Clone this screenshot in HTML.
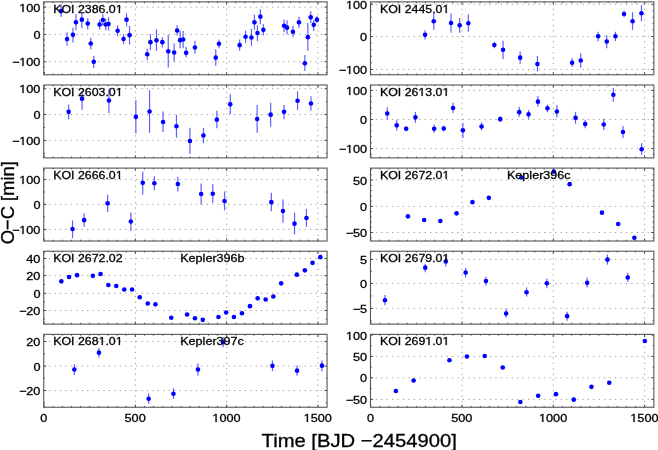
<!DOCTYPE html>
<html><head><meta charset="utf-8"><style>
html,body{margin:0;padding:0;background:#fff;}
svg{display:block;will-change:transform;}
text{font-family:"Liberation Sans",sans-serif;fill:#000;stroke:#000;stroke-width:0.3px;}
.tl{font-size:11.7px;}
.nm{font-size:11.5px;}
.ax{font-size:18.6px;}
.ay{font-size:18.35px;}
.gr{stroke:#999;stroke-width:1;stroke-dasharray:1.2 4.238;}
.tk{stroke:#444;stroke-width:1;}
.fr{fill:none;stroke:#555;stroke-width:1.1;}
.eb{stroke:#6060ff;stroke-width:1.2;}
.pt{fill:#0000ff;}
.one{fill:#000;stroke:#000;}
</style></head><body>
<svg width="658" height="450" viewBox="0 0 658 450">

<g>
<line x1="43.63" y1="61.73" x2="326.27" y2="61.73" class="gr"/>
<line x1="43.63" y1="34.40" x2="326.27" y2="34.40" class="gr"/>
<line x1="43.63" y1="7.07" x2="326.27" y2="7.07" class="gr"/>
<line x1="135.35" y1="75.02" x2="135.35" y2="2.67" class="gr"/>
<line x1="226.65" y1="75.02" x2="226.65" y2="2.67" class="gr"/>
<line x1="317.95" y1="75.02" x2="317.95" y2="2.67" class="gr"/>
<line x1="43.73" y1="72.66" x2="45.03" y2="72.66" class="tk"/>
<line x1="327.07" y1="72.66" x2="325.77" y2="72.66" class="tk"/>
<line x1="43.73" y1="67.20" x2="45.03" y2="67.20" class="tk"/>
<line x1="327.07" y1="67.20" x2="325.77" y2="67.20" class="tk"/>
<line x1="43.73" y1="61.73" x2="46.33" y2="61.73" class="tk"/>
<line x1="327.07" y1="61.73" x2="324.47" y2="61.73" class="tk"/>
<line x1="43.73" y1="56.26" x2="45.03" y2="56.26" class="tk"/>
<line x1="327.07" y1="56.26" x2="325.77" y2="56.26" class="tk"/>
<line x1="43.73" y1="50.80" x2="45.03" y2="50.80" class="tk"/>
<line x1="327.07" y1="50.80" x2="325.77" y2="50.80" class="tk"/>
<line x1="43.73" y1="45.33" x2="45.03" y2="45.33" class="tk"/>
<line x1="327.07" y1="45.33" x2="325.77" y2="45.33" class="tk"/>
<line x1="43.73" y1="39.87" x2="45.03" y2="39.87" class="tk"/>
<line x1="327.07" y1="39.87" x2="325.77" y2="39.87" class="tk"/>
<line x1="43.73" y1="34.40" x2="46.33" y2="34.40" class="tk"/>
<line x1="327.07" y1="34.40" x2="324.47" y2="34.40" class="tk"/>
<line x1="43.73" y1="28.93" x2="45.03" y2="28.93" class="tk"/>
<line x1="327.07" y1="28.93" x2="325.77" y2="28.93" class="tk"/>
<line x1="43.73" y1="23.47" x2="45.03" y2="23.47" class="tk"/>
<line x1="327.07" y1="23.47" x2="325.77" y2="23.47" class="tk"/>
<line x1="43.73" y1="18.00" x2="45.03" y2="18.00" class="tk"/>
<line x1="327.07" y1="18.00" x2="325.77" y2="18.00" class="tk"/>
<line x1="43.73" y1="12.54" x2="45.03" y2="12.54" class="tk"/>
<line x1="327.07" y1="12.54" x2="325.77" y2="12.54" class="tk"/>
<line x1="43.73" y1="7.07" x2="46.33" y2="7.07" class="tk"/>
<line x1="327.07" y1="7.07" x2="324.47" y2="7.07" class="tk"/>
<line x1="44.05" y1="74.77" x2="44.05" y2="72.17" class="tk"/>
<line x1="44.05" y1="1.87" x2="44.05" y2="4.47" class="tk"/>
<line x1="53.18" y1="74.77" x2="53.18" y2="73.47" class="tk"/>
<line x1="53.18" y1="1.87" x2="53.18" y2="3.17" class="tk"/>
<line x1="62.31" y1="74.77" x2="62.31" y2="73.47" class="tk"/>
<line x1="62.31" y1="1.87" x2="62.31" y2="3.17" class="tk"/>
<line x1="71.44" y1="74.77" x2="71.44" y2="73.47" class="tk"/>
<line x1="71.44" y1="1.87" x2="71.44" y2="3.17" class="tk"/>
<line x1="80.57" y1="74.77" x2="80.57" y2="73.47" class="tk"/>
<line x1="80.57" y1="1.87" x2="80.57" y2="3.17" class="tk"/>
<line x1="89.70" y1="74.77" x2="89.70" y2="73.47" class="tk"/>
<line x1="89.70" y1="1.87" x2="89.70" y2="3.17" class="tk"/>
<line x1="98.83" y1="74.77" x2="98.83" y2="73.47" class="tk"/>
<line x1="98.83" y1="1.87" x2="98.83" y2="3.17" class="tk"/>
<line x1="107.96" y1="74.77" x2="107.96" y2="73.47" class="tk"/>
<line x1="107.96" y1="1.87" x2="107.96" y2="3.17" class="tk"/>
<line x1="117.09" y1="74.77" x2="117.09" y2="73.47" class="tk"/>
<line x1="117.09" y1="1.87" x2="117.09" y2="3.17" class="tk"/>
<line x1="126.22" y1="74.77" x2="126.22" y2="73.47" class="tk"/>
<line x1="126.22" y1="1.87" x2="126.22" y2="3.17" class="tk"/>
<line x1="135.35" y1="74.77" x2="135.35" y2="72.17" class="tk"/>
<line x1="135.35" y1="1.87" x2="135.35" y2="4.47" class="tk"/>
<line x1="144.48" y1="74.77" x2="144.48" y2="73.47" class="tk"/>
<line x1="144.48" y1="1.87" x2="144.48" y2="3.17" class="tk"/>
<line x1="153.61" y1="74.77" x2="153.61" y2="73.47" class="tk"/>
<line x1="153.61" y1="1.87" x2="153.61" y2="3.17" class="tk"/>
<line x1="162.74" y1="74.77" x2="162.74" y2="73.47" class="tk"/>
<line x1="162.74" y1="1.87" x2="162.74" y2="3.17" class="tk"/>
<line x1="171.87" y1="74.77" x2="171.87" y2="73.47" class="tk"/>
<line x1="171.87" y1="1.87" x2="171.87" y2="3.17" class="tk"/>
<line x1="181.00" y1="74.77" x2="181.00" y2="73.47" class="tk"/>
<line x1="181.00" y1="1.87" x2="181.00" y2="3.17" class="tk"/>
<line x1="190.13" y1="74.77" x2="190.13" y2="73.47" class="tk"/>
<line x1="190.13" y1="1.87" x2="190.13" y2="3.17" class="tk"/>
<line x1="199.26" y1="74.77" x2="199.26" y2="73.47" class="tk"/>
<line x1="199.26" y1="1.87" x2="199.26" y2="3.17" class="tk"/>
<line x1="208.39" y1="74.77" x2="208.39" y2="73.47" class="tk"/>
<line x1="208.39" y1="1.87" x2="208.39" y2="3.17" class="tk"/>
<line x1="217.52" y1="74.77" x2="217.52" y2="73.47" class="tk"/>
<line x1="217.52" y1="1.87" x2="217.52" y2="3.17" class="tk"/>
<line x1="226.65" y1="74.77" x2="226.65" y2="72.17" class="tk"/>
<line x1="226.65" y1="1.87" x2="226.65" y2="4.47" class="tk"/>
<line x1="235.78" y1="74.77" x2="235.78" y2="73.47" class="tk"/>
<line x1="235.78" y1="1.87" x2="235.78" y2="3.17" class="tk"/>
<line x1="244.91" y1="74.77" x2="244.91" y2="73.47" class="tk"/>
<line x1="244.91" y1="1.87" x2="244.91" y2="3.17" class="tk"/>
<line x1="254.04" y1="74.77" x2="254.04" y2="73.47" class="tk"/>
<line x1="254.04" y1="1.87" x2="254.04" y2="3.17" class="tk"/>
<line x1="263.17" y1="74.77" x2="263.17" y2="73.47" class="tk"/>
<line x1="263.17" y1="1.87" x2="263.17" y2="3.17" class="tk"/>
<line x1="272.30" y1="74.77" x2="272.30" y2="73.47" class="tk"/>
<line x1="272.30" y1="1.87" x2="272.30" y2="3.17" class="tk"/>
<line x1="281.43" y1="74.77" x2="281.43" y2="73.47" class="tk"/>
<line x1="281.43" y1="1.87" x2="281.43" y2="3.17" class="tk"/>
<line x1="290.56" y1="74.77" x2="290.56" y2="73.47" class="tk"/>
<line x1="290.56" y1="1.87" x2="290.56" y2="3.17" class="tk"/>
<line x1="299.69" y1="74.77" x2="299.69" y2="73.47" class="tk"/>
<line x1="299.69" y1="1.87" x2="299.69" y2="3.17" class="tk"/>
<line x1="308.82" y1="74.77" x2="308.82" y2="73.47" class="tk"/>
<line x1="308.82" y1="1.87" x2="308.82" y2="3.17" class="tk"/>
<line x1="317.95" y1="74.77" x2="317.95" y2="72.17" class="tk"/>
<line x1="317.95" y1="1.87" x2="317.95" y2="4.47" class="tk"/>
<rect x="43.73" y="1.87" width="283.34" height="72.90" class="fr"/>
<line x1="61.15" y1="4.45" x2="61.15" y2="17.05" class="eb"/>
<line x1="67.05" y1="32.15" x2="67.05" y2="45.85" class="eb"/>
<line x1="72.95" y1="27.65" x2="72.95" y2="42.45" class="eb"/>
<line x1="75.95" y1="13.95" x2="75.95" y2="30.35" class="eb"/>
<line x1="81.85" y1="13.45" x2="81.85" y2="28.05" class="eb"/>
<line x1="87.75" y1="18.05" x2="87.75" y2="29.45" class="eb"/>
<line x1="90.75" y1="37.85" x2="90.75" y2="49.25" class="eb"/>
<line x1="93.75" y1="56.05" x2="93.75" y2="67.95" class="eb"/>
<line x1="99.65" y1="19.65" x2="99.65" y2="29.45" class="eb"/>
<line x1="102.85" y1="14.35" x2="102.85" y2="25.75" class="eb"/>
<line x1="105.75" y1="18.45" x2="105.75" y2="30.35" class="eb"/>
<line x1="108.55" y1="17.35" x2="108.55" y2="30.55" class="eb"/>
<line x1="117.65" y1="25.35" x2="117.65" y2="36.25" class="eb"/>
<line x1="123.55" y1="33.95" x2="123.55" y2="44.25" class="eb"/>
<line x1="126.55" y1="13.45" x2="126.55" y2="26.45" class="eb"/>
<line x1="129.55" y1="25.75" x2="129.55" y2="44.65" class="eb"/>
<line x1="147.25" y1="48.85" x2="147.25" y2="59.95" class="eb"/>
<line x1="150.45" y1="33.95" x2="150.45" y2="50.35" class="eb"/>
<line x1="156.45" y1="29.45" x2="156.45" y2="50.85" class="eb"/>
<line x1="162.35" y1="37.15" x2="162.35" y2="47.45" class="eb"/>
<line x1="168.25" y1="34.85" x2="168.25" y2="67.45" class="eb"/>
<line x1="174.15" y1="43.55" x2="174.15" y2="61.75" class="eb"/>
<line x1="177.15" y1="25.35" x2="177.15" y2="35.55" class="eb"/>
<line x1="180.15" y1="31.05" x2="180.15" y2="48.15" class="eb"/>
<line x1="183.15" y1="31.05" x2="183.15" y2="48.15" class="eb"/>
<line x1="186.15" y1="46.95" x2="186.15" y2="57.25" class="eb"/>
<line x1="194.95" y1="40.85" x2="194.95" y2="53.85" class="eb"/>
<line x1="215.75" y1="49.25" x2="215.75" y2="65.85" class="eb"/>
<line x1="218.95" y1="39.45" x2="218.95" y2="48.15" class="eb"/>
<line x1="239.65" y1="39.45" x2="239.65" y2="50.85" class="eb"/>
<line x1="245.55" y1="30.55" x2="245.55" y2="42.85" class="eb"/>
<line x1="251.45" y1="28.75" x2="251.45" y2="45.85" class="eb"/>
<line x1="254.45" y1="14.65" x2="254.45" y2="29.85" class="eb"/>
<line x1="257.45" y1="25.35" x2="257.45" y2="41.25" class="eb"/>
<line x1="260.35" y1="9.35" x2="260.35" y2="24.15" class="eb"/>
<line x1="263.35" y1="24.15" x2="263.35" y2="35.55" class="eb"/>
<line x1="284.05" y1="19.65" x2="284.05" y2="32.15" class="eb"/>
<line x1="287.05" y1="20.35" x2="287.05" y2="34.45" class="eb"/>
<line x1="292.95" y1="25.75" x2="292.95" y2="37.15" class="eb"/>
<line x1="298.95" y1="16.65" x2="298.95" y2="28.05" class="eb"/>
<line x1="304.85" y1="54.95" x2="304.85" y2="70.95" class="eb"/>
<line x1="307.85" y1="23.05" x2="307.85" y2="50.85" class="eb"/>
<line x1="310.75" y1="11.15" x2="310.75" y2="23.05" class="eb"/>
<line x1="313.75" y1="19.65" x2="313.75" y2="31.05" class="eb"/>
<line x1="316.95" y1="16.25" x2="316.95" y2="23.05" class="eb"/>
<circle cx="61.15" cy="11.05" r="2.3" class="pt"/>
<circle cx="67.05" cy="39.05" r="2.3" class="pt"/>
<circle cx="72.95" cy="34.85" r="2.3" class="pt"/>
<circle cx="75.95" cy="22.35" r="2.3" class="pt"/>
<circle cx="81.85" cy="19.65" r="2.3" class="pt"/>
<circle cx="87.75" cy="23.55" r="2.3" class="pt"/>
<circle cx="90.75" cy="43.55" r="2.3" class="pt"/>
<circle cx="93.75" cy="61.75" r="2.3" class="pt"/>
<circle cx="99.65" cy="24.45" r="2.3" class="pt"/>
<circle cx="102.85" cy="20.05" r="2.3" class="pt"/>
<circle cx="105.75" cy="24.45" r="2.3" class="pt"/>
<circle cx="108.55" cy="23.95" r="2.3" class="pt"/>
<circle cx="117.65" cy="30.75" r="2.3" class="pt"/>
<circle cx="123.55" cy="39.05" r="2.3" class="pt"/>
<circle cx="126.55" cy="19.65" r="2.3" class="pt"/>
<circle cx="129.55" cy="35.15" r="2.3" class="pt"/>
<circle cx="147.25" cy="54.25" r="2.3" class="pt"/>
<circle cx="150.45" cy="42.15" r="2.3" class="pt"/>
<circle cx="156.45" cy="40.35" r="2.3" class="pt"/>
<circle cx="162.35" cy="42.15" r="2.3" class="pt"/>
<circle cx="168.25" cy="51.35" r="2.3" class="pt"/>
<circle cx="174.15" cy="52.45" r="2.3" class="pt"/>
<circle cx="177.15" cy="30.55" r="2.3" class="pt"/>
<circle cx="180.15" cy="40.15" r="2.3" class="pt"/>
<circle cx="183.15" cy="39.45" r="2.3" class="pt"/>
<circle cx="186.15" cy="52.85" r="2.3" class="pt"/>
<circle cx="194.95" cy="47.45" r="2.3" class="pt"/>
<circle cx="215.75" cy="57.65" r="2.3" class="pt"/>
<circle cx="218.95" cy="43.75" r="2.3" class="pt"/>
<circle cx="239.65" cy="45.15" r="2.3" class="pt"/>
<circle cx="245.55" cy="36.75" r="2.3" class="pt"/>
<circle cx="251.45" cy="37.45" r="2.3" class="pt"/>
<circle cx="254.45" cy="22.35" r="2.3" class="pt"/>
<circle cx="257.45" cy="33.05" r="2.3" class="pt"/>
<circle cx="260.35" cy="16.65" r="2.3" class="pt"/>
<circle cx="263.35" cy="29.85" r="2.3" class="pt"/>
<circle cx="284.05" cy="25.75" r="2.3" class="pt"/>
<circle cx="287.05" cy="27.65" r="2.3" class="pt"/>
<circle cx="292.95" cy="31.75" r="2.3" class="pt"/>
<circle cx="298.95" cy="22.35" r="2.3" class="pt"/>
<circle cx="304.85" cy="63.35" r="2.3" class="pt"/>
<circle cx="307.85" cy="37.15" r="2.3" class="pt"/>
<circle cx="310.75" cy="17.35" r="2.3" class="pt"/>
<circle cx="313.75" cy="24.85" r="2.3" class="pt"/>
<circle cx="316.95" cy="19.65" r="2.3" class="pt"/>
<line x1="370.30" y1="69.47" x2="653.07" y2="69.47" class="gr"/>
<line x1="370.30" y1="36.53" x2="653.07" y2="36.53" class="gr"/>
<line x1="370.30" y1="4.27" x2="653.07" y2="4.27" class="gr"/>
<line x1="462.02" y1="75.02" x2="462.02" y2="2.67" class="gr"/>
<line x1="553.32" y1="75.02" x2="553.32" y2="2.67" class="gr"/>
<line x1="644.62" y1="75.02" x2="644.62" y2="2.67" class="gr"/>
<line x1="370.47" y1="69.47" x2="373.07" y2="69.47" class="tk"/>
<line x1="653.87" y1="69.47" x2="651.27" y2="69.47" class="tk"/>
<line x1="370.47" y1="62.88" x2="371.77" y2="62.88" class="tk"/>
<line x1="653.87" y1="62.88" x2="652.57" y2="62.88" class="tk"/>
<line x1="370.47" y1="56.29" x2="371.77" y2="56.29" class="tk"/>
<line x1="653.87" y1="56.29" x2="652.57" y2="56.29" class="tk"/>
<line x1="370.47" y1="49.71" x2="371.77" y2="49.71" class="tk"/>
<line x1="653.87" y1="49.71" x2="652.57" y2="49.71" class="tk"/>
<line x1="370.47" y1="43.12" x2="371.77" y2="43.12" class="tk"/>
<line x1="653.87" y1="43.12" x2="652.57" y2="43.12" class="tk"/>
<line x1="370.47" y1="36.53" x2="373.07" y2="36.53" class="tk"/>
<line x1="653.87" y1="36.53" x2="651.27" y2="36.53" class="tk"/>
<line x1="370.47" y1="30.08" x2="371.77" y2="30.08" class="tk"/>
<line x1="653.87" y1="30.08" x2="652.57" y2="30.08" class="tk"/>
<line x1="370.47" y1="23.63" x2="371.77" y2="23.63" class="tk"/>
<line x1="653.87" y1="23.63" x2="652.57" y2="23.63" class="tk"/>
<line x1="370.47" y1="17.17" x2="371.77" y2="17.17" class="tk"/>
<line x1="653.87" y1="17.17" x2="652.57" y2="17.17" class="tk"/>
<line x1="370.47" y1="10.72" x2="371.77" y2="10.72" class="tk"/>
<line x1="653.87" y1="10.72" x2="652.57" y2="10.72" class="tk"/>
<line x1="370.47" y1="4.27" x2="373.07" y2="4.27" class="tk"/>
<line x1="653.87" y1="4.27" x2="651.27" y2="4.27" class="tk"/>
<line x1="370.72" y1="74.77" x2="370.72" y2="72.17" class="tk"/>
<line x1="370.72" y1="1.87" x2="370.72" y2="4.47" class="tk"/>
<line x1="379.85" y1="74.77" x2="379.85" y2="73.47" class="tk"/>
<line x1="379.85" y1="1.87" x2="379.85" y2="3.17" class="tk"/>
<line x1="388.98" y1="74.77" x2="388.98" y2="73.47" class="tk"/>
<line x1="388.98" y1="1.87" x2="388.98" y2="3.17" class="tk"/>
<line x1="398.11" y1="74.77" x2="398.11" y2="73.47" class="tk"/>
<line x1="398.11" y1="1.87" x2="398.11" y2="3.17" class="tk"/>
<line x1="407.24" y1="74.77" x2="407.24" y2="73.47" class="tk"/>
<line x1="407.24" y1="1.87" x2="407.24" y2="3.17" class="tk"/>
<line x1="416.37" y1="74.77" x2="416.37" y2="73.47" class="tk"/>
<line x1="416.37" y1="1.87" x2="416.37" y2="3.17" class="tk"/>
<line x1="425.50" y1="74.77" x2="425.50" y2="73.47" class="tk"/>
<line x1="425.50" y1="1.87" x2="425.50" y2="3.17" class="tk"/>
<line x1="434.63" y1="74.77" x2="434.63" y2="73.47" class="tk"/>
<line x1="434.63" y1="1.87" x2="434.63" y2="3.17" class="tk"/>
<line x1="443.76" y1="74.77" x2="443.76" y2="73.47" class="tk"/>
<line x1="443.76" y1="1.87" x2="443.76" y2="3.17" class="tk"/>
<line x1="452.89" y1="74.77" x2="452.89" y2="73.47" class="tk"/>
<line x1="452.89" y1="1.87" x2="452.89" y2="3.17" class="tk"/>
<line x1="462.02" y1="74.77" x2="462.02" y2="72.17" class="tk"/>
<line x1="462.02" y1="1.87" x2="462.02" y2="4.47" class="tk"/>
<line x1="471.15" y1="74.77" x2="471.15" y2="73.47" class="tk"/>
<line x1="471.15" y1="1.87" x2="471.15" y2="3.17" class="tk"/>
<line x1="480.28" y1="74.77" x2="480.28" y2="73.47" class="tk"/>
<line x1="480.28" y1="1.87" x2="480.28" y2="3.17" class="tk"/>
<line x1="489.41" y1="74.77" x2="489.41" y2="73.47" class="tk"/>
<line x1="489.41" y1="1.87" x2="489.41" y2="3.17" class="tk"/>
<line x1="498.54" y1="74.77" x2="498.54" y2="73.47" class="tk"/>
<line x1="498.54" y1="1.87" x2="498.54" y2="3.17" class="tk"/>
<line x1="507.67" y1="74.77" x2="507.67" y2="73.47" class="tk"/>
<line x1="507.67" y1="1.87" x2="507.67" y2="3.17" class="tk"/>
<line x1="516.80" y1="74.77" x2="516.80" y2="73.47" class="tk"/>
<line x1="516.80" y1="1.87" x2="516.80" y2="3.17" class="tk"/>
<line x1="525.93" y1="74.77" x2="525.93" y2="73.47" class="tk"/>
<line x1="525.93" y1="1.87" x2="525.93" y2="3.17" class="tk"/>
<line x1="535.06" y1="74.77" x2="535.06" y2="73.47" class="tk"/>
<line x1="535.06" y1="1.87" x2="535.06" y2="3.17" class="tk"/>
<line x1="544.19" y1="74.77" x2="544.19" y2="73.47" class="tk"/>
<line x1="544.19" y1="1.87" x2="544.19" y2="3.17" class="tk"/>
<line x1="553.32" y1="74.77" x2="553.32" y2="72.17" class="tk"/>
<line x1="553.32" y1="1.87" x2="553.32" y2="4.47" class="tk"/>
<line x1="562.45" y1="74.77" x2="562.45" y2="73.47" class="tk"/>
<line x1="562.45" y1="1.87" x2="562.45" y2="3.17" class="tk"/>
<line x1="571.58" y1="74.77" x2="571.58" y2="73.47" class="tk"/>
<line x1="571.58" y1="1.87" x2="571.58" y2="3.17" class="tk"/>
<line x1="580.71" y1="74.77" x2="580.71" y2="73.47" class="tk"/>
<line x1="580.71" y1="1.87" x2="580.71" y2="3.17" class="tk"/>
<line x1="589.84" y1="74.77" x2="589.84" y2="73.47" class="tk"/>
<line x1="589.84" y1="1.87" x2="589.84" y2="3.17" class="tk"/>
<line x1="598.97" y1="74.77" x2="598.97" y2="73.47" class="tk"/>
<line x1="598.97" y1="1.87" x2="598.97" y2="3.17" class="tk"/>
<line x1="608.10" y1="74.77" x2="608.10" y2="73.47" class="tk"/>
<line x1="608.10" y1="1.87" x2="608.10" y2="3.17" class="tk"/>
<line x1="617.23" y1="74.77" x2="617.23" y2="73.47" class="tk"/>
<line x1="617.23" y1="1.87" x2="617.23" y2="3.17" class="tk"/>
<line x1="626.36" y1="74.77" x2="626.36" y2="73.47" class="tk"/>
<line x1="626.36" y1="1.87" x2="626.36" y2="3.17" class="tk"/>
<line x1="635.49" y1="74.77" x2="635.49" y2="73.47" class="tk"/>
<line x1="635.49" y1="1.87" x2="635.49" y2="3.17" class="tk"/>
<line x1="644.62" y1="74.77" x2="644.62" y2="72.17" class="tk"/>
<line x1="644.62" y1="1.87" x2="644.62" y2="4.47" class="tk"/>
<rect x="370.47" y="1.87" width="283.40" height="72.90" class="fr"/>
<line x1="425.05" y1="30.35" x2="425.05" y2="39.45" class="eb"/>
<line x1="433.75" y1="12.75" x2="433.75" y2="29.85" class="eb"/>
<line x1="451.05" y1="13.45" x2="451.05" y2="32.65" class="eb"/>
<line x1="459.65" y1="18.05" x2="459.65" y2="32.65" class="eb"/>
<line x1="468.35" y1="14.35" x2="468.35" y2="31.75" class="eb"/>
<line x1="494.35" y1="41.75" x2="494.35" y2="48.15" class="eb"/>
<line x1="503.05" y1="40.85" x2="503.05" y2="59.05" class="eb"/>
<line x1="520.15" y1="51.55" x2="520.15" y2="63.65" class="eb"/>
<line x1="537.45" y1="56.05" x2="537.45" y2="71.35" class="eb"/>
<line x1="572.15" y1="58.35" x2="572.15" y2="66.85" class="eb"/>
<line x1="580.75" y1="53.15" x2="580.75" y2="67.75" class="eb"/>
<line x1="598.15" y1="31.75" x2="598.15" y2="41.25" class="eb"/>
<line x1="606.75" y1="35.15" x2="606.75" y2="48.15" class="eb"/>
<line x1="615.45" y1="31.75" x2="615.45" y2="41.25" class="eb"/>
<line x1="624.05" y1="10.55" x2="624.05" y2="17.35" class="eb"/>
<line x1="632.55" y1="12.15" x2="632.55" y2="29.85" class="eb"/>
<line x1="641.45" y1="5.25" x2="641.45" y2="21.25" class="eb"/>
<circle cx="425.05" cy="34.85" r="2.3" class="pt"/>
<circle cx="433.75" cy="21.25" r="2.3" class="pt"/>
<circle cx="451.05" cy="23.05" r="2.3" class="pt"/>
<circle cx="459.65" cy="25.35" r="2.3" class="pt"/>
<circle cx="468.35" cy="23.25" r="2.3" class="pt"/>
<circle cx="494.35" cy="44.95" r="2.3" class="pt"/>
<circle cx="503.05" cy="49.75" r="2.3" class="pt"/>
<circle cx="520.15" cy="57.65" r="2.3" class="pt"/>
<circle cx="537.45" cy="64.05" r="2.3" class="pt"/>
<circle cx="572.15" cy="62.75" r="2.3" class="pt"/>
<circle cx="580.75" cy="60.45" r="2.3" class="pt"/>
<circle cx="598.15" cy="36.25" r="2.3" class="pt"/>
<circle cx="606.75" cy="41.55" r="2.3" class="pt"/>
<circle cx="615.45" cy="36.25" r="2.3" class="pt"/>
<circle cx="624.05" cy="13.95" r="2.3" class="pt"/>
<circle cx="632.55" cy="21.25" r="2.3" class="pt"/>
<circle cx="641.45" cy="13.25" r="2.3" class="pt"/>
<line x1="43.63" y1="140.40" x2="326.27" y2="140.40" class="gr"/>
<line x1="43.63" y1="114.53" x2="326.27" y2="114.53" class="gr"/>
<line x1="43.63" y1="88.73" x2="326.27" y2="88.73" class="gr"/>
<line x1="135.35" y1="158.14" x2="135.35" y2="85.79" class="gr"/>
<line x1="226.65" y1="158.14" x2="226.65" y2="85.79" class="gr"/>
<line x1="317.95" y1="158.14" x2="317.95" y2="85.79" class="gr"/>
<line x1="43.73" y1="153.34" x2="45.03" y2="153.34" class="tk"/>
<line x1="327.07" y1="153.34" x2="325.77" y2="153.34" class="tk"/>
<line x1="43.73" y1="140.40" x2="46.33" y2="140.40" class="tk"/>
<line x1="327.07" y1="140.40" x2="324.47" y2="140.40" class="tk"/>
<line x1="43.73" y1="127.47" x2="45.03" y2="127.47" class="tk"/>
<line x1="327.07" y1="127.47" x2="325.77" y2="127.47" class="tk"/>
<line x1="43.73" y1="114.53" x2="46.33" y2="114.53" class="tk"/>
<line x1="327.07" y1="114.53" x2="324.47" y2="114.53" class="tk"/>
<line x1="43.73" y1="101.63" x2="45.03" y2="101.63" class="tk"/>
<line x1="327.07" y1="101.63" x2="325.77" y2="101.63" class="tk"/>
<line x1="43.73" y1="88.73" x2="46.33" y2="88.73" class="tk"/>
<line x1="327.07" y1="88.73" x2="324.47" y2="88.73" class="tk"/>
<line x1="44.05" y1="157.89" x2="44.05" y2="155.29" class="tk"/>
<line x1="44.05" y1="84.99" x2="44.05" y2="87.59" class="tk"/>
<line x1="53.18" y1="157.89" x2="53.18" y2="156.59" class="tk"/>
<line x1="53.18" y1="84.99" x2="53.18" y2="86.29" class="tk"/>
<line x1="62.31" y1="157.89" x2="62.31" y2="156.59" class="tk"/>
<line x1="62.31" y1="84.99" x2="62.31" y2="86.29" class="tk"/>
<line x1="71.44" y1="157.89" x2="71.44" y2="156.59" class="tk"/>
<line x1="71.44" y1="84.99" x2="71.44" y2="86.29" class="tk"/>
<line x1="80.57" y1="157.89" x2="80.57" y2="156.59" class="tk"/>
<line x1="80.57" y1="84.99" x2="80.57" y2="86.29" class="tk"/>
<line x1="89.70" y1="157.89" x2="89.70" y2="156.59" class="tk"/>
<line x1="89.70" y1="84.99" x2="89.70" y2="86.29" class="tk"/>
<line x1="98.83" y1="157.89" x2="98.83" y2="156.59" class="tk"/>
<line x1="98.83" y1="84.99" x2="98.83" y2="86.29" class="tk"/>
<line x1="107.96" y1="157.89" x2="107.96" y2="156.59" class="tk"/>
<line x1="107.96" y1="84.99" x2="107.96" y2="86.29" class="tk"/>
<line x1="117.09" y1="157.89" x2="117.09" y2="156.59" class="tk"/>
<line x1="117.09" y1="84.99" x2="117.09" y2="86.29" class="tk"/>
<line x1="126.22" y1="157.89" x2="126.22" y2="156.59" class="tk"/>
<line x1="126.22" y1="84.99" x2="126.22" y2="86.29" class="tk"/>
<line x1="135.35" y1="157.89" x2="135.35" y2="155.29" class="tk"/>
<line x1="135.35" y1="84.99" x2="135.35" y2="87.59" class="tk"/>
<line x1="144.48" y1="157.89" x2="144.48" y2="156.59" class="tk"/>
<line x1="144.48" y1="84.99" x2="144.48" y2="86.29" class="tk"/>
<line x1="153.61" y1="157.89" x2="153.61" y2="156.59" class="tk"/>
<line x1="153.61" y1="84.99" x2="153.61" y2="86.29" class="tk"/>
<line x1="162.74" y1="157.89" x2="162.74" y2="156.59" class="tk"/>
<line x1="162.74" y1="84.99" x2="162.74" y2="86.29" class="tk"/>
<line x1="171.87" y1="157.89" x2="171.87" y2="156.59" class="tk"/>
<line x1="171.87" y1="84.99" x2="171.87" y2="86.29" class="tk"/>
<line x1="181.00" y1="157.89" x2="181.00" y2="156.59" class="tk"/>
<line x1="181.00" y1="84.99" x2="181.00" y2="86.29" class="tk"/>
<line x1="190.13" y1="157.89" x2="190.13" y2="156.59" class="tk"/>
<line x1="190.13" y1="84.99" x2="190.13" y2="86.29" class="tk"/>
<line x1="199.26" y1="157.89" x2="199.26" y2="156.59" class="tk"/>
<line x1="199.26" y1="84.99" x2="199.26" y2="86.29" class="tk"/>
<line x1="208.39" y1="157.89" x2="208.39" y2="156.59" class="tk"/>
<line x1="208.39" y1="84.99" x2="208.39" y2="86.29" class="tk"/>
<line x1="217.52" y1="157.89" x2="217.52" y2="156.59" class="tk"/>
<line x1="217.52" y1="84.99" x2="217.52" y2="86.29" class="tk"/>
<line x1="226.65" y1="157.89" x2="226.65" y2="155.29" class="tk"/>
<line x1="226.65" y1="84.99" x2="226.65" y2="87.59" class="tk"/>
<line x1="235.78" y1="157.89" x2="235.78" y2="156.59" class="tk"/>
<line x1="235.78" y1="84.99" x2="235.78" y2="86.29" class="tk"/>
<line x1="244.91" y1="157.89" x2="244.91" y2="156.59" class="tk"/>
<line x1="244.91" y1="84.99" x2="244.91" y2="86.29" class="tk"/>
<line x1="254.04" y1="157.89" x2="254.04" y2="156.59" class="tk"/>
<line x1="254.04" y1="84.99" x2="254.04" y2="86.29" class="tk"/>
<line x1="263.17" y1="157.89" x2="263.17" y2="156.59" class="tk"/>
<line x1="263.17" y1="84.99" x2="263.17" y2="86.29" class="tk"/>
<line x1="272.30" y1="157.89" x2="272.30" y2="156.59" class="tk"/>
<line x1="272.30" y1="84.99" x2="272.30" y2="86.29" class="tk"/>
<line x1="281.43" y1="157.89" x2="281.43" y2="156.59" class="tk"/>
<line x1="281.43" y1="84.99" x2="281.43" y2="86.29" class="tk"/>
<line x1="290.56" y1="157.89" x2="290.56" y2="156.59" class="tk"/>
<line x1="290.56" y1="84.99" x2="290.56" y2="86.29" class="tk"/>
<line x1="299.69" y1="157.89" x2="299.69" y2="156.59" class="tk"/>
<line x1="299.69" y1="84.99" x2="299.69" y2="86.29" class="tk"/>
<line x1="308.82" y1="157.89" x2="308.82" y2="156.59" class="tk"/>
<line x1="308.82" y1="84.99" x2="308.82" y2="86.29" class="tk"/>
<line x1="317.95" y1="157.89" x2="317.95" y2="155.29" class="tk"/>
<line x1="317.95" y1="84.99" x2="317.95" y2="87.59" class="tk"/>
<rect x="43.73" y="84.99" width="283.34" height="72.90" class="fr"/>
<line x1="68.65" y1="104.55" x2="68.65" y2="119.15" class="eb"/>
<line x1="82.05" y1="90.95" x2="82.05" y2="109.65" class="eb"/>
<line x1="108.95" y1="89.05" x2="108.95" y2="113.05" class="eb"/>
<line x1="135.85" y1="100.05" x2="135.85" y2="133.55" class="eb"/>
<line x1="149.55" y1="90.25" x2="149.55" y2="132.85" class="eb"/>
<line x1="163.05" y1="111.45" x2="163.05" y2="131.95" class="eb"/>
<line x1="176.45" y1="114.65" x2="176.45" y2="137.65" class="eb"/>
<line x1="189.95" y1="127.85" x2="189.95" y2="154.05" class="eb"/>
<line x1="203.45" y1="127.85" x2="203.45" y2="143.35" class="eb"/>
<line x1="216.85" y1="110.75" x2="216.85" y2="128.25" class="eb"/>
<line x1="230.25" y1="94.15" x2="230.25" y2="114.15" class="eb"/>
<line x1="257.15" y1="105.05" x2="257.15" y2="132.85" class="eb"/>
<line x1="270.65" y1="102.75" x2="270.65" y2="126.65" class="eb"/>
<line x1="284.05" y1="105.05" x2="284.05" y2="119.15" class="eb"/>
<line x1="297.55" y1="91.35" x2="297.55" y2="110.05" class="eb"/>
<line x1="310.95" y1="96.35" x2="310.95" y2="110.75" class="eb"/>
<circle cx="68.65" cy="111.85" r="2.3" class="pt"/>
<circle cx="82.05" cy="98.65" r="2.3" class="pt"/>
<circle cx="108.95" cy="100.45" r="2.3" class="pt"/>
<circle cx="135.85" cy="116.85" r="2.3" class="pt"/>
<circle cx="149.55" cy="111.45" r="2.3" class="pt"/>
<circle cx="163.05" cy="121.95" r="2.3" class="pt"/>
<circle cx="176.45" cy="126.25" r="2.3" class="pt"/>
<circle cx="189.95" cy="141.05" r="2.3" class="pt"/>
<circle cx="203.45" cy="135.55" r="2.3" class="pt"/>
<circle cx="216.85" cy="119.65" r="2.3" class="pt"/>
<circle cx="230.25" cy="104.35" r="2.3" class="pt"/>
<circle cx="257.15" cy="118.95" r="2.3" class="pt"/>
<circle cx="270.65" cy="114.65" r="2.3" class="pt"/>
<circle cx="284.05" cy="111.85" r="2.3" class="pt"/>
<circle cx="297.55" cy="100.75" r="2.3" class="pt"/>
<circle cx="310.95" cy="103.45" r="2.3" class="pt"/>
<line x1="370.30" y1="148.48" x2="653.07" y2="148.48" class="gr"/>
<line x1="370.30" y1="119.48" x2="653.07" y2="119.48" class="gr"/>
<line x1="370.30" y1="90.40" x2="653.07" y2="90.40" class="gr"/>
<line x1="462.02" y1="158.14" x2="462.02" y2="85.79" class="gr"/>
<line x1="553.32" y1="158.14" x2="553.32" y2="85.79" class="gr"/>
<line x1="644.62" y1="158.14" x2="644.62" y2="85.79" class="gr"/>
<line x1="370.47" y1="154.28" x2="371.77" y2="154.28" class="tk"/>
<line x1="653.87" y1="154.28" x2="652.57" y2="154.28" class="tk"/>
<line x1="370.47" y1="148.48" x2="373.07" y2="148.48" class="tk"/>
<line x1="653.87" y1="148.48" x2="651.27" y2="148.48" class="tk"/>
<line x1="370.47" y1="142.68" x2="371.77" y2="142.68" class="tk"/>
<line x1="653.87" y1="142.68" x2="652.57" y2="142.68" class="tk"/>
<line x1="370.47" y1="136.88" x2="371.77" y2="136.88" class="tk"/>
<line x1="653.87" y1="136.88" x2="652.57" y2="136.88" class="tk"/>
<line x1="370.47" y1="131.08" x2="371.77" y2="131.08" class="tk"/>
<line x1="653.87" y1="131.08" x2="652.57" y2="131.08" class="tk"/>
<line x1="370.47" y1="125.28" x2="371.77" y2="125.28" class="tk"/>
<line x1="653.87" y1="125.28" x2="652.57" y2="125.28" class="tk"/>
<line x1="370.47" y1="119.48" x2="373.07" y2="119.48" class="tk"/>
<line x1="653.87" y1="119.48" x2="651.27" y2="119.48" class="tk"/>
<line x1="370.47" y1="113.66" x2="371.77" y2="113.66" class="tk"/>
<line x1="653.87" y1="113.66" x2="652.57" y2="113.66" class="tk"/>
<line x1="370.47" y1="107.85" x2="371.77" y2="107.85" class="tk"/>
<line x1="653.87" y1="107.85" x2="652.57" y2="107.85" class="tk"/>
<line x1="370.47" y1="102.03" x2="371.77" y2="102.03" class="tk"/>
<line x1="653.87" y1="102.03" x2="652.57" y2="102.03" class="tk"/>
<line x1="370.47" y1="96.22" x2="371.77" y2="96.22" class="tk"/>
<line x1="653.87" y1="96.22" x2="652.57" y2="96.22" class="tk"/>
<line x1="370.47" y1="90.40" x2="373.07" y2="90.40" class="tk"/>
<line x1="653.87" y1="90.40" x2="651.27" y2="90.40" class="tk"/>
<line x1="370.72" y1="157.89" x2="370.72" y2="155.29" class="tk"/>
<line x1="370.72" y1="84.99" x2="370.72" y2="87.59" class="tk"/>
<line x1="379.85" y1="157.89" x2="379.85" y2="156.59" class="tk"/>
<line x1="379.85" y1="84.99" x2="379.85" y2="86.29" class="tk"/>
<line x1="388.98" y1="157.89" x2="388.98" y2="156.59" class="tk"/>
<line x1="388.98" y1="84.99" x2="388.98" y2="86.29" class="tk"/>
<line x1="398.11" y1="157.89" x2="398.11" y2="156.59" class="tk"/>
<line x1="398.11" y1="84.99" x2="398.11" y2="86.29" class="tk"/>
<line x1="407.24" y1="157.89" x2="407.24" y2="156.59" class="tk"/>
<line x1="407.24" y1="84.99" x2="407.24" y2="86.29" class="tk"/>
<line x1="416.37" y1="157.89" x2="416.37" y2="156.59" class="tk"/>
<line x1="416.37" y1="84.99" x2="416.37" y2="86.29" class="tk"/>
<line x1="425.50" y1="157.89" x2="425.50" y2="156.59" class="tk"/>
<line x1="425.50" y1="84.99" x2="425.50" y2="86.29" class="tk"/>
<line x1="434.63" y1="157.89" x2="434.63" y2="156.59" class="tk"/>
<line x1="434.63" y1="84.99" x2="434.63" y2="86.29" class="tk"/>
<line x1="443.76" y1="157.89" x2="443.76" y2="156.59" class="tk"/>
<line x1="443.76" y1="84.99" x2="443.76" y2="86.29" class="tk"/>
<line x1="452.89" y1="157.89" x2="452.89" y2="156.59" class="tk"/>
<line x1="452.89" y1="84.99" x2="452.89" y2="86.29" class="tk"/>
<line x1="462.02" y1="157.89" x2="462.02" y2="155.29" class="tk"/>
<line x1="462.02" y1="84.99" x2="462.02" y2="87.59" class="tk"/>
<line x1="471.15" y1="157.89" x2="471.15" y2="156.59" class="tk"/>
<line x1="471.15" y1="84.99" x2="471.15" y2="86.29" class="tk"/>
<line x1="480.28" y1="157.89" x2="480.28" y2="156.59" class="tk"/>
<line x1="480.28" y1="84.99" x2="480.28" y2="86.29" class="tk"/>
<line x1="489.41" y1="157.89" x2="489.41" y2="156.59" class="tk"/>
<line x1="489.41" y1="84.99" x2="489.41" y2="86.29" class="tk"/>
<line x1="498.54" y1="157.89" x2="498.54" y2="156.59" class="tk"/>
<line x1="498.54" y1="84.99" x2="498.54" y2="86.29" class="tk"/>
<line x1="507.67" y1="157.89" x2="507.67" y2="156.59" class="tk"/>
<line x1="507.67" y1="84.99" x2="507.67" y2="86.29" class="tk"/>
<line x1="516.80" y1="157.89" x2="516.80" y2="156.59" class="tk"/>
<line x1="516.80" y1="84.99" x2="516.80" y2="86.29" class="tk"/>
<line x1="525.93" y1="157.89" x2="525.93" y2="156.59" class="tk"/>
<line x1="525.93" y1="84.99" x2="525.93" y2="86.29" class="tk"/>
<line x1="535.06" y1="157.89" x2="535.06" y2="156.59" class="tk"/>
<line x1="535.06" y1="84.99" x2="535.06" y2="86.29" class="tk"/>
<line x1="544.19" y1="157.89" x2="544.19" y2="156.59" class="tk"/>
<line x1="544.19" y1="84.99" x2="544.19" y2="86.29" class="tk"/>
<line x1="553.32" y1="157.89" x2="553.32" y2="155.29" class="tk"/>
<line x1="553.32" y1="84.99" x2="553.32" y2="87.59" class="tk"/>
<line x1="562.45" y1="157.89" x2="562.45" y2="156.59" class="tk"/>
<line x1="562.45" y1="84.99" x2="562.45" y2="86.29" class="tk"/>
<line x1="571.58" y1="157.89" x2="571.58" y2="156.59" class="tk"/>
<line x1="571.58" y1="84.99" x2="571.58" y2="86.29" class="tk"/>
<line x1="580.71" y1="157.89" x2="580.71" y2="156.59" class="tk"/>
<line x1="580.71" y1="84.99" x2="580.71" y2="86.29" class="tk"/>
<line x1="589.84" y1="157.89" x2="589.84" y2="156.59" class="tk"/>
<line x1="589.84" y1="84.99" x2="589.84" y2="86.29" class="tk"/>
<line x1="598.97" y1="157.89" x2="598.97" y2="156.59" class="tk"/>
<line x1="598.97" y1="84.99" x2="598.97" y2="86.29" class="tk"/>
<line x1="608.10" y1="157.89" x2="608.10" y2="156.59" class="tk"/>
<line x1="608.10" y1="84.99" x2="608.10" y2="86.29" class="tk"/>
<line x1="617.23" y1="157.89" x2="617.23" y2="156.59" class="tk"/>
<line x1="617.23" y1="84.99" x2="617.23" y2="86.29" class="tk"/>
<line x1="626.36" y1="157.89" x2="626.36" y2="156.59" class="tk"/>
<line x1="626.36" y1="84.99" x2="626.36" y2="86.29" class="tk"/>
<line x1="635.49" y1="157.89" x2="635.49" y2="156.59" class="tk"/>
<line x1="635.49" y1="84.99" x2="635.49" y2="86.29" class="tk"/>
<line x1="644.62" y1="157.89" x2="644.62" y2="155.29" class="tk"/>
<line x1="644.62" y1="84.99" x2="644.62" y2="87.59" class="tk"/>
<rect x="370.47" y="84.99" width="283.40" height="72.90" class="fr"/>
<line x1="387.25" y1="107.35" x2="387.25" y2="119.85" class="eb"/>
<line x1="396.75" y1="119.85" x2="396.75" y2="130.55" class="eb"/>
<line x1="406.15" y1="126.25" x2="406.15" y2="131.25" class="eb"/>
<line x1="415.45" y1="111.85" x2="415.45" y2="122.85" class="eb"/>
<line x1="434.15" y1="124.45" x2="434.15" y2="132.85" class="eb"/>
<line x1="443.75" y1="125.75" x2="443.75" y2="131.25" class="eb"/>
<line x1="453.05" y1="102.75" x2="453.05" y2="113.05" class="eb"/>
<line x1="462.85" y1="122.85" x2="462.85" y2="138.05" class="eb"/>
<line x1="481.55" y1="122.25" x2="481.55" y2="130.25" class="eb"/>
<line x1="500.25" y1="116.45" x2="500.25" y2="122.15" class="eb"/>
<line x1="519.25" y1="106.85" x2="519.25" y2="116.85" class="eb"/>
<line x1="528.55" y1="110.05" x2="528.55" y2="118.75" class="eb"/>
<line x1="537.95" y1="95.95" x2="537.95" y2="106.85" class="eb"/>
<line x1="547.45" y1="104.55" x2="547.45" y2="112.35" class="eb"/>
<line x1="556.85" y1="105.05" x2="556.85" y2="117.55" class="eb"/>
<line x1="575.55" y1="111.85" x2="575.55" y2="123.75" class="eb"/>
<line x1="585.15" y1="119.85" x2="585.15" y2="128.25" class="eb"/>
<line x1="603.75" y1="118.75" x2="603.75" y2="130.15" class="eb"/>
<line x1="613.35" y1="87.95" x2="613.35" y2="101.65" class="eb"/>
<line x1="622.95" y1="126.05" x2="622.95" y2="138.05" class="eb"/>
<line x1="641.65" y1="143.35" x2="641.65" y2="154.75" class="eb"/>
<circle cx="387.25" cy="113.45" r="2.3" class="pt"/>
<circle cx="396.75" cy="125.35" r="2.3" class="pt"/>
<circle cx="406.15" cy="128.75" r="2.3" class="pt"/>
<circle cx="415.45" cy="117.35" r="2.3" class="pt"/>
<circle cx="434.15" cy="128.75" r="2.3" class="pt"/>
<circle cx="443.75" cy="128.55" r="2.3" class="pt"/>
<circle cx="453.05" cy="108.05" r="2.3" class="pt"/>
<circle cx="462.85" cy="130.35" r="2.3" class="pt"/>
<circle cx="481.55" cy="126.45" r="2.3" class="pt"/>
<circle cx="500.25" cy="119.15" r="2.3" class="pt"/>
<circle cx="519.25" cy="112.15" r="2.3" class="pt"/>
<circle cx="528.55" cy="114.35" r="2.3" class="pt"/>
<circle cx="537.95" cy="101.65" r="2.3" class="pt"/>
<circle cx="547.45" cy="108.25" r="2.3" class="pt"/>
<circle cx="556.85" cy="111.45" r="2.3" class="pt"/>
<circle cx="575.55" cy="117.85" r="2.3" class="pt"/>
<circle cx="585.15" cy="123.95" r="2.3" class="pt"/>
<circle cx="603.75" cy="124.45" r="2.3" class="pt"/>
<circle cx="613.35" cy="94.75" r="2.3" class="pt"/>
<circle cx="622.95" cy="131.95" r="2.3" class="pt"/>
<circle cx="641.65" cy="149.25" r="2.3" class="pt"/>
<line x1="43.63" y1="229.40" x2="326.27" y2="229.40" class="gr"/>
<line x1="43.63" y1="204.40" x2="326.27" y2="204.40" class="gr"/>
<line x1="43.63" y1="179.60" x2="326.27" y2="179.60" class="gr"/>
<line x1="135.35" y1="241.26" x2="135.35" y2="168.91" class="gr"/>
<line x1="226.65" y1="241.26" x2="226.65" y2="168.91" class="gr"/>
<line x1="317.95" y1="241.26" x2="317.95" y2="168.91" class="gr"/>
<line x1="43.73" y1="229.40" x2="46.33" y2="229.40" class="tk"/>
<line x1="327.07" y1="229.40" x2="324.47" y2="229.40" class="tk"/>
<line x1="43.73" y1="216.90" x2="45.03" y2="216.90" class="tk"/>
<line x1="327.07" y1="216.90" x2="325.77" y2="216.90" class="tk"/>
<line x1="43.73" y1="204.40" x2="46.33" y2="204.40" class="tk"/>
<line x1="327.07" y1="204.40" x2="324.47" y2="204.40" class="tk"/>
<line x1="43.73" y1="192.00" x2="45.03" y2="192.00" class="tk"/>
<line x1="327.07" y1="192.00" x2="325.77" y2="192.00" class="tk"/>
<line x1="43.73" y1="179.60" x2="46.33" y2="179.60" class="tk"/>
<line x1="327.07" y1="179.60" x2="324.47" y2="179.60" class="tk"/>
<line x1="44.05" y1="241.01" x2="44.05" y2="238.41" class="tk"/>
<line x1="44.05" y1="168.11" x2="44.05" y2="170.71" class="tk"/>
<line x1="53.18" y1="241.01" x2="53.18" y2="239.71" class="tk"/>
<line x1="53.18" y1="168.11" x2="53.18" y2="169.41" class="tk"/>
<line x1="62.31" y1="241.01" x2="62.31" y2="239.71" class="tk"/>
<line x1="62.31" y1="168.11" x2="62.31" y2="169.41" class="tk"/>
<line x1="71.44" y1="241.01" x2="71.44" y2="239.71" class="tk"/>
<line x1="71.44" y1="168.11" x2="71.44" y2="169.41" class="tk"/>
<line x1="80.57" y1="241.01" x2="80.57" y2="239.71" class="tk"/>
<line x1="80.57" y1="168.11" x2="80.57" y2="169.41" class="tk"/>
<line x1="89.70" y1="241.01" x2="89.70" y2="239.71" class="tk"/>
<line x1="89.70" y1="168.11" x2="89.70" y2="169.41" class="tk"/>
<line x1="98.83" y1="241.01" x2="98.83" y2="239.71" class="tk"/>
<line x1="98.83" y1="168.11" x2="98.83" y2="169.41" class="tk"/>
<line x1="107.96" y1="241.01" x2="107.96" y2="239.71" class="tk"/>
<line x1="107.96" y1="168.11" x2="107.96" y2="169.41" class="tk"/>
<line x1="117.09" y1="241.01" x2="117.09" y2="239.71" class="tk"/>
<line x1="117.09" y1="168.11" x2="117.09" y2="169.41" class="tk"/>
<line x1="126.22" y1="241.01" x2="126.22" y2="239.71" class="tk"/>
<line x1="126.22" y1="168.11" x2="126.22" y2="169.41" class="tk"/>
<line x1="135.35" y1="241.01" x2="135.35" y2="238.41" class="tk"/>
<line x1="135.35" y1="168.11" x2="135.35" y2="170.71" class="tk"/>
<line x1="144.48" y1="241.01" x2="144.48" y2="239.71" class="tk"/>
<line x1="144.48" y1="168.11" x2="144.48" y2="169.41" class="tk"/>
<line x1="153.61" y1="241.01" x2="153.61" y2="239.71" class="tk"/>
<line x1="153.61" y1="168.11" x2="153.61" y2="169.41" class="tk"/>
<line x1="162.74" y1="241.01" x2="162.74" y2="239.71" class="tk"/>
<line x1="162.74" y1="168.11" x2="162.74" y2="169.41" class="tk"/>
<line x1="171.87" y1="241.01" x2="171.87" y2="239.71" class="tk"/>
<line x1="171.87" y1="168.11" x2="171.87" y2="169.41" class="tk"/>
<line x1="181.00" y1="241.01" x2="181.00" y2="239.71" class="tk"/>
<line x1="181.00" y1="168.11" x2="181.00" y2="169.41" class="tk"/>
<line x1="190.13" y1="241.01" x2="190.13" y2="239.71" class="tk"/>
<line x1="190.13" y1="168.11" x2="190.13" y2="169.41" class="tk"/>
<line x1="199.26" y1="241.01" x2="199.26" y2="239.71" class="tk"/>
<line x1="199.26" y1="168.11" x2="199.26" y2="169.41" class="tk"/>
<line x1="208.39" y1="241.01" x2="208.39" y2="239.71" class="tk"/>
<line x1="208.39" y1="168.11" x2="208.39" y2="169.41" class="tk"/>
<line x1="217.52" y1="241.01" x2="217.52" y2="239.71" class="tk"/>
<line x1="217.52" y1="168.11" x2="217.52" y2="169.41" class="tk"/>
<line x1="226.65" y1="241.01" x2="226.65" y2="238.41" class="tk"/>
<line x1="226.65" y1="168.11" x2="226.65" y2="170.71" class="tk"/>
<line x1="235.78" y1="241.01" x2="235.78" y2="239.71" class="tk"/>
<line x1="235.78" y1="168.11" x2="235.78" y2="169.41" class="tk"/>
<line x1="244.91" y1="241.01" x2="244.91" y2="239.71" class="tk"/>
<line x1="244.91" y1="168.11" x2="244.91" y2="169.41" class="tk"/>
<line x1="254.04" y1="241.01" x2="254.04" y2="239.71" class="tk"/>
<line x1="254.04" y1="168.11" x2="254.04" y2="169.41" class="tk"/>
<line x1="263.17" y1="241.01" x2="263.17" y2="239.71" class="tk"/>
<line x1="263.17" y1="168.11" x2="263.17" y2="169.41" class="tk"/>
<line x1="272.30" y1="241.01" x2="272.30" y2="239.71" class="tk"/>
<line x1="272.30" y1="168.11" x2="272.30" y2="169.41" class="tk"/>
<line x1="281.43" y1="241.01" x2="281.43" y2="239.71" class="tk"/>
<line x1="281.43" y1="168.11" x2="281.43" y2="169.41" class="tk"/>
<line x1="290.56" y1="241.01" x2="290.56" y2="239.71" class="tk"/>
<line x1="290.56" y1="168.11" x2="290.56" y2="169.41" class="tk"/>
<line x1="299.69" y1="241.01" x2="299.69" y2="239.71" class="tk"/>
<line x1="299.69" y1="168.11" x2="299.69" y2="169.41" class="tk"/>
<line x1="308.82" y1="241.01" x2="308.82" y2="239.71" class="tk"/>
<line x1="308.82" y1="168.11" x2="308.82" y2="169.41" class="tk"/>
<line x1="317.95" y1="241.01" x2="317.95" y2="238.41" class="tk"/>
<line x1="317.95" y1="168.11" x2="317.95" y2="170.71" class="tk"/>
<rect x="43.73" y="168.11" width="283.34" height="72.90" class="fr"/>
<line x1="72.55" y1="220.45" x2="72.55" y2="238.15" class="eb"/>
<line x1="84.15" y1="213.15" x2="84.15" y2="226.75" class="eb"/>
<line x1="107.65" y1="194.85" x2="107.65" y2="211.95" class="eb"/>
<line x1="130.85" y1="212.45" x2="130.85" y2="230.85" class="eb"/>
<line x1="142.75" y1="171.65" x2="142.75" y2="194.45" class="eb"/>
<line x1="154.35" y1="176.15" x2="154.35" y2="190.35" class="eb"/>
<line x1="177.85" y1="176.65" x2="177.85" y2="191.45" class="eb"/>
<line x1="201.15" y1="183.45" x2="201.15" y2="204.45" class="eb"/>
<line x1="212.75" y1="183.95" x2="212.75" y2="202.85" class="eb"/>
<line x1="224.55" y1="191.45" x2="224.55" y2="210.35" class="eb"/>
<line x1="271.35" y1="192.65" x2="271.35" y2="211.25" class="eb"/>
<line x1="282.95" y1="199.45" x2="282.95" y2="222.65" class="eb"/>
<line x1="294.55" y1="212.65" x2="294.55" y2="234.35" class="eb"/>
<line x1="306.45" y1="209.05" x2="306.45" y2="226.75" class="eb"/>
<circle cx="72.55" cy="229.05" r="2.3" class="pt"/>
<circle cx="84.15" cy="220.15" r="2.3" class="pt"/>
<circle cx="107.65" cy="203.35" r="2.3" class="pt"/>
<circle cx="130.85" cy="221.55" r="2.3" class="pt"/>
<circle cx="142.75" cy="182.85" r="2.3" class="pt"/>
<circle cx="154.35" cy="183.25" r="2.3" class="pt"/>
<circle cx="177.85" cy="183.95" r="2.3" class="pt"/>
<circle cx="201.15" cy="193.95" r="2.3" class="pt"/>
<circle cx="212.75" cy="193.75" r="2.3" class="pt"/>
<circle cx="224.55" cy="201.05" r="2.3" class="pt"/>
<circle cx="271.35" cy="202.15" r="2.3" class="pt"/>
<circle cx="282.95" cy="211.05" r="2.3" class="pt"/>
<circle cx="294.55" cy="223.65" r="2.3" class="pt"/>
<circle cx="306.45" cy="217.95" r="2.3" class="pt"/>
<line x1="370.30" y1="232.53" x2="653.07" y2="232.53" class="gr"/>
<line x1="370.30" y1="206.40" x2="653.07" y2="206.40" class="gr"/>
<line x1="370.30" y1="180.00" x2="653.07" y2="180.00" class="gr"/>
<line x1="462.02" y1="241.26" x2="462.02" y2="168.91" class="gr"/>
<line x1="553.32" y1="241.26" x2="553.32" y2="168.91" class="gr"/>
<line x1="644.62" y1="241.26" x2="644.62" y2="168.91" class="gr"/>
<line x1="370.47" y1="237.76" x2="371.77" y2="237.76" class="tk"/>
<line x1="653.87" y1="237.76" x2="652.57" y2="237.76" class="tk"/>
<line x1="370.47" y1="232.53" x2="373.07" y2="232.53" class="tk"/>
<line x1="653.87" y1="232.53" x2="651.27" y2="232.53" class="tk"/>
<line x1="370.47" y1="227.30" x2="371.77" y2="227.30" class="tk"/>
<line x1="653.87" y1="227.30" x2="652.57" y2="227.30" class="tk"/>
<line x1="370.47" y1="222.08" x2="371.77" y2="222.08" class="tk"/>
<line x1="653.87" y1="222.08" x2="652.57" y2="222.08" class="tk"/>
<line x1="370.47" y1="216.85" x2="371.77" y2="216.85" class="tk"/>
<line x1="653.87" y1="216.85" x2="652.57" y2="216.85" class="tk"/>
<line x1="370.47" y1="211.63" x2="371.77" y2="211.63" class="tk"/>
<line x1="653.87" y1="211.63" x2="652.57" y2="211.63" class="tk"/>
<line x1="370.47" y1="206.40" x2="373.07" y2="206.40" class="tk"/>
<line x1="653.87" y1="206.40" x2="651.27" y2="206.40" class="tk"/>
<line x1="370.47" y1="201.12" x2="371.77" y2="201.12" class="tk"/>
<line x1="653.87" y1="201.12" x2="652.57" y2="201.12" class="tk"/>
<line x1="370.47" y1="195.84" x2="371.77" y2="195.84" class="tk"/>
<line x1="653.87" y1="195.84" x2="652.57" y2="195.84" class="tk"/>
<line x1="370.47" y1="190.56" x2="371.77" y2="190.56" class="tk"/>
<line x1="653.87" y1="190.56" x2="652.57" y2="190.56" class="tk"/>
<line x1="370.47" y1="185.28" x2="371.77" y2="185.28" class="tk"/>
<line x1="653.87" y1="185.28" x2="652.57" y2="185.28" class="tk"/>
<line x1="370.47" y1="180.00" x2="373.07" y2="180.00" class="tk"/>
<line x1="653.87" y1="180.00" x2="651.27" y2="180.00" class="tk"/>
<line x1="370.47" y1="174.72" x2="371.77" y2="174.72" class="tk"/>
<line x1="653.87" y1="174.72" x2="652.57" y2="174.72" class="tk"/>
<line x1="370.47" y1="169.44" x2="371.77" y2="169.44" class="tk"/>
<line x1="653.87" y1="169.44" x2="652.57" y2="169.44" class="tk"/>
<line x1="370.72" y1="241.01" x2="370.72" y2="238.41" class="tk"/>
<line x1="370.72" y1="168.11" x2="370.72" y2="170.71" class="tk"/>
<line x1="379.85" y1="241.01" x2="379.85" y2="239.71" class="tk"/>
<line x1="379.85" y1="168.11" x2="379.85" y2="169.41" class="tk"/>
<line x1="388.98" y1="241.01" x2="388.98" y2="239.71" class="tk"/>
<line x1="388.98" y1="168.11" x2="388.98" y2="169.41" class="tk"/>
<line x1="398.11" y1="241.01" x2="398.11" y2="239.71" class="tk"/>
<line x1="398.11" y1="168.11" x2="398.11" y2="169.41" class="tk"/>
<line x1="407.24" y1="241.01" x2="407.24" y2="239.71" class="tk"/>
<line x1="407.24" y1="168.11" x2="407.24" y2="169.41" class="tk"/>
<line x1="416.37" y1="241.01" x2="416.37" y2="239.71" class="tk"/>
<line x1="416.37" y1="168.11" x2="416.37" y2="169.41" class="tk"/>
<line x1="425.50" y1="241.01" x2="425.50" y2="239.71" class="tk"/>
<line x1="425.50" y1="168.11" x2="425.50" y2="169.41" class="tk"/>
<line x1="434.63" y1="241.01" x2="434.63" y2="239.71" class="tk"/>
<line x1="434.63" y1="168.11" x2="434.63" y2="169.41" class="tk"/>
<line x1="443.76" y1="241.01" x2="443.76" y2="239.71" class="tk"/>
<line x1="443.76" y1="168.11" x2="443.76" y2="169.41" class="tk"/>
<line x1="452.89" y1="241.01" x2="452.89" y2="239.71" class="tk"/>
<line x1="452.89" y1="168.11" x2="452.89" y2="169.41" class="tk"/>
<line x1="462.02" y1="241.01" x2="462.02" y2="238.41" class="tk"/>
<line x1="462.02" y1="168.11" x2="462.02" y2="170.71" class="tk"/>
<line x1="471.15" y1="241.01" x2="471.15" y2="239.71" class="tk"/>
<line x1="471.15" y1="168.11" x2="471.15" y2="169.41" class="tk"/>
<line x1="480.28" y1="241.01" x2="480.28" y2="239.71" class="tk"/>
<line x1="480.28" y1="168.11" x2="480.28" y2="169.41" class="tk"/>
<line x1="489.41" y1="241.01" x2="489.41" y2="239.71" class="tk"/>
<line x1="489.41" y1="168.11" x2="489.41" y2="169.41" class="tk"/>
<line x1="498.54" y1="241.01" x2="498.54" y2="239.71" class="tk"/>
<line x1="498.54" y1="168.11" x2="498.54" y2="169.41" class="tk"/>
<line x1="507.67" y1="241.01" x2="507.67" y2="239.71" class="tk"/>
<line x1="507.67" y1="168.11" x2="507.67" y2="169.41" class="tk"/>
<line x1="516.80" y1="241.01" x2="516.80" y2="239.71" class="tk"/>
<line x1="516.80" y1="168.11" x2="516.80" y2="169.41" class="tk"/>
<line x1="525.93" y1="241.01" x2="525.93" y2="239.71" class="tk"/>
<line x1="525.93" y1="168.11" x2="525.93" y2="169.41" class="tk"/>
<line x1="535.06" y1="241.01" x2="535.06" y2="239.71" class="tk"/>
<line x1="535.06" y1="168.11" x2="535.06" y2="169.41" class="tk"/>
<line x1="544.19" y1="241.01" x2="544.19" y2="239.71" class="tk"/>
<line x1="544.19" y1="168.11" x2="544.19" y2="169.41" class="tk"/>
<line x1="553.32" y1="241.01" x2="553.32" y2="238.41" class="tk"/>
<line x1="553.32" y1="168.11" x2="553.32" y2="170.71" class="tk"/>
<line x1="562.45" y1="241.01" x2="562.45" y2="239.71" class="tk"/>
<line x1="562.45" y1="168.11" x2="562.45" y2="169.41" class="tk"/>
<line x1="571.58" y1="241.01" x2="571.58" y2="239.71" class="tk"/>
<line x1="571.58" y1="168.11" x2="571.58" y2="169.41" class="tk"/>
<line x1="580.71" y1="241.01" x2="580.71" y2="239.71" class="tk"/>
<line x1="580.71" y1="168.11" x2="580.71" y2="169.41" class="tk"/>
<line x1="589.84" y1="241.01" x2="589.84" y2="239.71" class="tk"/>
<line x1="589.84" y1="168.11" x2="589.84" y2="169.41" class="tk"/>
<line x1="598.97" y1="241.01" x2="598.97" y2="239.71" class="tk"/>
<line x1="598.97" y1="168.11" x2="598.97" y2="169.41" class="tk"/>
<line x1="608.10" y1="241.01" x2="608.10" y2="239.71" class="tk"/>
<line x1="608.10" y1="168.11" x2="608.10" y2="169.41" class="tk"/>
<line x1="617.23" y1="241.01" x2="617.23" y2="239.71" class="tk"/>
<line x1="617.23" y1="168.11" x2="617.23" y2="169.41" class="tk"/>
<line x1="626.36" y1="241.01" x2="626.36" y2="239.71" class="tk"/>
<line x1="626.36" y1="168.11" x2="626.36" y2="169.41" class="tk"/>
<line x1="635.49" y1="241.01" x2="635.49" y2="239.71" class="tk"/>
<line x1="635.49" y1="168.11" x2="635.49" y2="169.41" class="tk"/>
<line x1="644.62" y1="241.01" x2="644.62" y2="238.41" class="tk"/>
<line x1="644.62" y1="168.11" x2="644.62" y2="170.71" class="tk"/>
<rect x="370.47" y="168.11" width="283.40" height="72.90" class="fr"/>
<circle cx="407.95" cy="216.35" r="2.3" class="pt"/>
<circle cx="424.15" cy="219.95" r="2.3" class="pt"/>
<circle cx="440.35" cy="221.05" r="2.3" class="pt"/>
<circle cx="456.55" cy="213.35" r="2.3" class="pt"/>
<circle cx="472.45" cy="202.15" r="2.3" class="pt"/>
<circle cx="488.85" cy="197.85" r="2.3" class="pt"/>
<circle cx="521.25" cy="177.55" r="2.3" class="pt"/>
<circle cx="553.85" cy="171.65" r="2.3" class="pt"/>
<circle cx="569.65" cy="184.15" r="2.3" class="pt"/>
<circle cx="601.95" cy="212.65" r="2.3" class="pt"/>
<circle cx="618.15" cy="224.05" r="2.3" class="pt"/>
<circle cx="634.35" cy="237.75" r="2.3" class="pt"/>
<line x1="43.63" y1="310.48" x2="326.27" y2="310.48" class="gr"/>
<line x1="43.63" y1="293.35" x2="326.27" y2="293.35" class="gr"/>
<line x1="43.63" y1="275.60" x2="326.27" y2="275.60" class="gr"/>
<line x1="43.63" y1="258.47" x2="326.27" y2="258.47" class="gr"/>
<line x1="135.35" y1="324.38" x2="135.35" y2="252.03" class="gr"/>
<line x1="226.65" y1="324.38" x2="226.65" y2="252.03" class="gr"/>
<line x1="317.95" y1="324.38" x2="317.95" y2="252.03" class="gr"/>
<line x1="43.73" y1="319.05" x2="45.03" y2="319.05" class="tk"/>
<line x1="327.07" y1="319.05" x2="325.77" y2="319.05" class="tk"/>
<line x1="43.73" y1="310.48" x2="46.33" y2="310.48" class="tk"/>
<line x1="327.07" y1="310.48" x2="324.47" y2="310.48" class="tk"/>
<line x1="43.73" y1="301.92" x2="45.03" y2="301.92" class="tk"/>
<line x1="327.07" y1="301.92" x2="325.77" y2="301.92" class="tk"/>
<line x1="43.73" y1="293.35" x2="46.33" y2="293.35" class="tk"/>
<line x1="327.07" y1="293.35" x2="324.47" y2="293.35" class="tk"/>
<line x1="43.73" y1="284.48" x2="45.03" y2="284.48" class="tk"/>
<line x1="327.07" y1="284.48" x2="325.77" y2="284.48" class="tk"/>
<line x1="43.73" y1="275.60" x2="46.33" y2="275.60" class="tk"/>
<line x1="327.07" y1="275.60" x2="324.47" y2="275.60" class="tk"/>
<line x1="43.73" y1="267.04" x2="45.03" y2="267.04" class="tk"/>
<line x1="327.07" y1="267.04" x2="325.77" y2="267.04" class="tk"/>
<line x1="43.73" y1="258.47" x2="46.33" y2="258.47" class="tk"/>
<line x1="327.07" y1="258.47" x2="324.47" y2="258.47" class="tk"/>
<line x1="44.05" y1="324.13" x2="44.05" y2="321.53" class="tk"/>
<line x1="44.05" y1="251.23" x2="44.05" y2="253.83" class="tk"/>
<line x1="53.18" y1="324.13" x2="53.18" y2="322.83" class="tk"/>
<line x1="53.18" y1="251.23" x2="53.18" y2="252.53" class="tk"/>
<line x1="62.31" y1="324.13" x2="62.31" y2="322.83" class="tk"/>
<line x1="62.31" y1="251.23" x2="62.31" y2="252.53" class="tk"/>
<line x1="71.44" y1="324.13" x2="71.44" y2="322.83" class="tk"/>
<line x1="71.44" y1="251.23" x2="71.44" y2="252.53" class="tk"/>
<line x1="80.57" y1="324.13" x2="80.57" y2="322.83" class="tk"/>
<line x1="80.57" y1="251.23" x2="80.57" y2="252.53" class="tk"/>
<line x1="89.70" y1="324.13" x2="89.70" y2="322.83" class="tk"/>
<line x1="89.70" y1="251.23" x2="89.70" y2="252.53" class="tk"/>
<line x1="98.83" y1="324.13" x2="98.83" y2="322.83" class="tk"/>
<line x1="98.83" y1="251.23" x2="98.83" y2="252.53" class="tk"/>
<line x1="107.96" y1="324.13" x2="107.96" y2="322.83" class="tk"/>
<line x1="107.96" y1="251.23" x2="107.96" y2="252.53" class="tk"/>
<line x1="117.09" y1="324.13" x2="117.09" y2="322.83" class="tk"/>
<line x1="117.09" y1="251.23" x2="117.09" y2="252.53" class="tk"/>
<line x1="126.22" y1="324.13" x2="126.22" y2="322.83" class="tk"/>
<line x1="126.22" y1="251.23" x2="126.22" y2="252.53" class="tk"/>
<line x1="135.35" y1="324.13" x2="135.35" y2="321.53" class="tk"/>
<line x1="135.35" y1="251.23" x2="135.35" y2="253.83" class="tk"/>
<line x1="144.48" y1="324.13" x2="144.48" y2="322.83" class="tk"/>
<line x1="144.48" y1="251.23" x2="144.48" y2="252.53" class="tk"/>
<line x1="153.61" y1="324.13" x2="153.61" y2="322.83" class="tk"/>
<line x1="153.61" y1="251.23" x2="153.61" y2="252.53" class="tk"/>
<line x1="162.74" y1="324.13" x2="162.74" y2="322.83" class="tk"/>
<line x1="162.74" y1="251.23" x2="162.74" y2="252.53" class="tk"/>
<line x1="171.87" y1="324.13" x2="171.87" y2="322.83" class="tk"/>
<line x1="171.87" y1="251.23" x2="171.87" y2="252.53" class="tk"/>
<line x1="181.00" y1="324.13" x2="181.00" y2="322.83" class="tk"/>
<line x1="181.00" y1="251.23" x2="181.00" y2="252.53" class="tk"/>
<line x1="190.13" y1="324.13" x2="190.13" y2="322.83" class="tk"/>
<line x1="190.13" y1="251.23" x2="190.13" y2="252.53" class="tk"/>
<line x1="199.26" y1="324.13" x2="199.26" y2="322.83" class="tk"/>
<line x1="199.26" y1="251.23" x2="199.26" y2="252.53" class="tk"/>
<line x1="208.39" y1="324.13" x2="208.39" y2="322.83" class="tk"/>
<line x1="208.39" y1="251.23" x2="208.39" y2="252.53" class="tk"/>
<line x1="217.52" y1="324.13" x2="217.52" y2="322.83" class="tk"/>
<line x1="217.52" y1="251.23" x2="217.52" y2="252.53" class="tk"/>
<line x1="226.65" y1="324.13" x2="226.65" y2="321.53" class="tk"/>
<line x1="226.65" y1="251.23" x2="226.65" y2="253.83" class="tk"/>
<line x1="235.78" y1="324.13" x2="235.78" y2="322.83" class="tk"/>
<line x1="235.78" y1="251.23" x2="235.78" y2="252.53" class="tk"/>
<line x1="244.91" y1="324.13" x2="244.91" y2="322.83" class="tk"/>
<line x1="244.91" y1="251.23" x2="244.91" y2="252.53" class="tk"/>
<line x1="254.04" y1="324.13" x2="254.04" y2="322.83" class="tk"/>
<line x1="254.04" y1="251.23" x2="254.04" y2="252.53" class="tk"/>
<line x1="263.17" y1="324.13" x2="263.17" y2="322.83" class="tk"/>
<line x1="263.17" y1="251.23" x2="263.17" y2="252.53" class="tk"/>
<line x1="272.30" y1="324.13" x2="272.30" y2="322.83" class="tk"/>
<line x1="272.30" y1="251.23" x2="272.30" y2="252.53" class="tk"/>
<line x1="281.43" y1="324.13" x2="281.43" y2="322.83" class="tk"/>
<line x1="281.43" y1="251.23" x2="281.43" y2="252.53" class="tk"/>
<line x1="290.56" y1="324.13" x2="290.56" y2="322.83" class="tk"/>
<line x1="290.56" y1="251.23" x2="290.56" y2="252.53" class="tk"/>
<line x1="299.69" y1="324.13" x2="299.69" y2="322.83" class="tk"/>
<line x1="299.69" y1="251.23" x2="299.69" y2="252.53" class="tk"/>
<line x1="308.82" y1="324.13" x2="308.82" y2="322.83" class="tk"/>
<line x1="308.82" y1="251.23" x2="308.82" y2="252.53" class="tk"/>
<line x1="317.95" y1="324.13" x2="317.95" y2="321.53" class="tk"/>
<line x1="317.95" y1="251.23" x2="317.95" y2="253.83" class="tk"/>
<rect x="43.73" y="251.23" width="283.34" height="72.90" class="fr"/>
<circle cx="61.35" cy="281.35" r="2.3" class="pt"/>
<circle cx="69.05" cy="276.95" r="2.3" class="pt"/>
<circle cx="77.05" cy="275.15" r="2.3" class="pt"/>
<circle cx="92.85" cy="275.85" r="2.3" class="pt"/>
<circle cx="100.55" cy="274.05" r="2.3" class="pt"/>
<circle cx="108.35" cy="284.95" r="2.3" class="pt"/>
<circle cx="116.25" cy="286.05" r="2.3" class="pt"/>
<circle cx="124.25" cy="289.55" r="2.3" class="pt"/>
<circle cx="132.05" cy="289.55" r="2.3" class="pt"/>
<circle cx="139.75" cy="297.25" r="2.3" class="pt"/>
<circle cx="147.75" cy="303.45" r="2.3" class="pt"/>
<circle cx="155.45" cy="304.35" r="2.3" class="pt"/>
<circle cx="171.25" cy="317.75" r="2.3" class="pt"/>
<circle cx="187.05" cy="314.55" r="2.3" class="pt"/>
<circle cx="194.95" cy="318.25" r="2.3" class="pt"/>
<circle cx="202.75" cy="319.85" r="2.3" class="pt"/>
<circle cx="218.45" cy="317.05" r="2.3" class="pt"/>
<circle cx="226.15" cy="312.55" r="2.3" class="pt"/>
<circle cx="233.95" cy="317.05" r="2.3" class="pt"/>
<circle cx="241.95" cy="313.25" r="2.3" class="pt"/>
<circle cx="249.95" cy="306.15" r="2.3" class="pt"/>
<circle cx="257.65" cy="298.35" r="2.3" class="pt"/>
<circle cx="265.65" cy="299.55" r="2.3" class="pt"/>
<circle cx="273.35" cy="296.55" r="2.3" class="pt"/>
<circle cx="281.15" cy="283.35" r="2.3" class="pt"/>
<circle cx="296.85" cy="274.65" r="2.3" class="pt"/>
<circle cx="304.85" cy="270.35" r="2.3" class="pt"/>
<circle cx="312.55" cy="262.85" r="2.3" class="pt"/>
<circle cx="320.35" cy="257.15" r="2.3" class="pt"/>
<line x1="370.30" y1="308.40" x2="653.07" y2="308.40" class="gr"/>
<line x1="370.30" y1="283.53" x2="653.07" y2="283.53" class="gr"/>
<line x1="370.30" y1="259.40" x2="653.07" y2="259.40" class="gr"/>
<line x1="462.02" y1="324.38" x2="462.02" y2="252.03" class="gr"/>
<line x1="553.32" y1="324.38" x2="553.32" y2="252.03" class="gr"/>
<line x1="644.62" y1="324.38" x2="644.62" y2="252.03" class="gr"/>
<line x1="370.47" y1="320.83" x2="371.77" y2="320.83" class="tk"/>
<line x1="653.87" y1="320.83" x2="652.57" y2="320.83" class="tk"/>
<line x1="370.47" y1="308.40" x2="373.07" y2="308.40" class="tk"/>
<line x1="653.87" y1="308.40" x2="651.27" y2="308.40" class="tk"/>
<line x1="370.47" y1="295.96" x2="371.77" y2="295.96" class="tk"/>
<line x1="653.87" y1="295.96" x2="652.57" y2="295.96" class="tk"/>
<line x1="370.47" y1="283.53" x2="373.07" y2="283.53" class="tk"/>
<line x1="653.87" y1="283.53" x2="651.27" y2="283.53" class="tk"/>
<line x1="370.47" y1="271.46" x2="371.77" y2="271.46" class="tk"/>
<line x1="653.87" y1="271.46" x2="652.57" y2="271.46" class="tk"/>
<line x1="370.47" y1="259.40" x2="373.07" y2="259.40" class="tk"/>
<line x1="653.87" y1="259.40" x2="651.27" y2="259.40" class="tk"/>
<line x1="370.72" y1="324.13" x2="370.72" y2="321.53" class="tk"/>
<line x1="370.72" y1="251.23" x2="370.72" y2="253.83" class="tk"/>
<line x1="379.85" y1="324.13" x2="379.85" y2="322.83" class="tk"/>
<line x1="379.85" y1="251.23" x2="379.85" y2="252.53" class="tk"/>
<line x1="388.98" y1="324.13" x2="388.98" y2="322.83" class="tk"/>
<line x1="388.98" y1="251.23" x2="388.98" y2="252.53" class="tk"/>
<line x1="398.11" y1="324.13" x2="398.11" y2="322.83" class="tk"/>
<line x1="398.11" y1="251.23" x2="398.11" y2="252.53" class="tk"/>
<line x1="407.24" y1="324.13" x2="407.24" y2="322.83" class="tk"/>
<line x1="407.24" y1="251.23" x2="407.24" y2="252.53" class="tk"/>
<line x1="416.37" y1="324.13" x2="416.37" y2="322.83" class="tk"/>
<line x1="416.37" y1="251.23" x2="416.37" y2="252.53" class="tk"/>
<line x1="425.50" y1="324.13" x2="425.50" y2="322.83" class="tk"/>
<line x1="425.50" y1="251.23" x2="425.50" y2="252.53" class="tk"/>
<line x1="434.63" y1="324.13" x2="434.63" y2="322.83" class="tk"/>
<line x1="434.63" y1="251.23" x2="434.63" y2="252.53" class="tk"/>
<line x1="443.76" y1="324.13" x2="443.76" y2="322.83" class="tk"/>
<line x1="443.76" y1="251.23" x2="443.76" y2="252.53" class="tk"/>
<line x1="452.89" y1="324.13" x2="452.89" y2="322.83" class="tk"/>
<line x1="452.89" y1="251.23" x2="452.89" y2="252.53" class="tk"/>
<line x1="462.02" y1="324.13" x2="462.02" y2="321.53" class="tk"/>
<line x1="462.02" y1="251.23" x2="462.02" y2="253.83" class="tk"/>
<line x1="471.15" y1="324.13" x2="471.15" y2="322.83" class="tk"/>
<line x1="471.15" y1="251.23" x2="471.15" y2="252.53" class="tk"/>
<line x1="480.28" y1="324.13" x2="480.28" y2="322.83" class="tk"/>
<line x1="480.28" y1="251.23" x2="480.28" y2="252.53" class="tk"/>
<line x1="489.41" y1="324.13" x2="489.41" y2="322.83" class="tk"/>
<line x1="489.41" y1="251.23" x2="489.41" y2="252.53" class="tk"/>
<line x1="498.54" y1="324.13" x2="498.54" y2="322.83" class="tk"/>
<line x1="498.54" y1="251.23" x2="498.54" y2="252.53" class="tk"/>
<line x1="507.67" y1="324.13" x2="507.67" y2="322.83" class="tk"/>
<line x1="507.67" y1="251.23" x2="507.67" y2="252.53" class="tk"/>
<line x1="516.80" y1="324.13" x2="516.80" y2="322.83" class="tk"/>
<line x1="516.80" y1="251.23" x2="516.80" y2="252.53" class="tk"/>
<line x1="525.93" y1="324.13" x2="525.93" y2="322.83" class="tk"/>
<line x1="525.93" y1="251.23" x2="525.93" y2="252.53" class="tk"/>
<line x1="535.06" y1="324.13" x2="535.06" y2="322.83" class="tk"/>
<line x1="535.06" y1="251.23" x2="535.06" y2="252.53" class="tk"/>
<line x1="544.19" y1="324.13" x2="544.19" y2="322.83" class="tk"/>
<line x1="544.19" y1="251.23" x2="544.19" y2="252.53" class="tk"/>
<line x1="553.32" y1="324.13" x2="553.32" y2="321.53" class="tk"/>
<line x1="553.32" y1="251.23" x2="553.32" y2="253.83" class="tk"/>
<line x1="562.45" y1="324.13" x2="562.45" y2="322.83" class="tk"/>
<line x1="562.45" y1="251.23" x2="562.45" y2="252.53" class="tk"/>
<line x1="571.58" y1="324.13" x2="571.58" y2="322.83" class="tk"/>
<line x1="571.58" y1="251.23" x2="571.58" y2="252.53" class="tk"/>
<line x1="580.71" y1="324.13" x2="580.71" y2="322.83" class="tk"/>
<line x1="580.71" y1="251.23" x2="580.71" y2="252.53" class="tk"/>
<line x1="589.84" y1="324.13" x2="589.84" y2="322.83" class="tk"/>
<line x1="589.84" y1="251.23" x2="589.84" y2="252.53" class="tk"/>
<line x1="598.97" y1="324.13" x2="598.97" y2="322.83" class="tk"/>
<line x1="598.97" y1="251.23" x2="598.97" y2="252.53" class="tk"/>
<line x1="608.10" y1="324.13" x2="608.10" y2="322.83" class="tk"/>
<line x1="608.10" y1="251.23" x2="608.10" y2="252.53" class="tk"/>
<line x1="617.23" y1="324.13" x2="617.23" y2="322.83" class="tk"/>
<line x1="617.23" y1="251.23" x2="617.23" y2="252.53" class="tk"/>
<line x1="626.36" y1="324.13" x2="626.36" y2="322.83" class="tk"/>
<line x1="626.36" y1="251.23" x2="626.36" y2="252.53" class="tk"/>
<line x1="635.49" y1="324.13" x2="635.49" y2="322.83" class="tk"/>
<line x1="635.49" y1="251.23" x2="635.49" y2="252.53" class="tk"/>
<line x1="644.62" y1="324.13" x2="644.62" y2="321.53" class="tk"/>
<line x1="644.62" y1="251.23" x2="644.62" y2="253.83" class="tk"/>
<rect x="370.47" y="251.23" width="283.40" height="72.90" class="fr"/>
<line x1="384.95" y1="294.95" x2="384.95" y2="305.25" class="eb"/>
<line x1="425.25" y1="263.75" x2="425.25" y2="272.15" class="eb"/>
<line x1="445.75" y1="256.25" x2="445.75" y2="266.45" class="eb"/>
<line x1="465.65" y1="267.65" x2="465.65" y2="277.45" class="eb"/>
<line x1="485.95" y1="276.75" x2="485.95" y2="285.85" class="eb"/>
<line x1="506.15" y1="308.65" x2="506.15" y2="317.75" class="eb"/>
<line x1="526.55" y1="287.45" x2="526.55" y2="296.55" class="eb"/>
<line x1="546.85" y1="278.55" x2="546.85" y2="288.15" class="eb"/>
<line x1="567.15" y1="311.65" x2="567.15" y2="320.75" class="eb"/>
<line x1="587.15" y1="277.85" x2="587.15" y2="287.45" class="eb"/>
<line x1="607.45" y1="254.65" x2="607.45" y2="264.65" class="eb"/>
<line x1="627.75" y1="272.85" x2="627.75" y2="281.95" class="eb"/>
<circle cx="384.95" cy="300.25" r="2.3" class="pt"/>
<circle cx="425.25" cy="267.65" r="2.3" class="pt"/>
<circle cx="445.75" cy="261.45" r="2.3" class="pt"/>
<circle cx="465.65" cy="272.45" r="2.3" class="pt"/>
<circle cx="485.95" cy="281.05" r="2.3" class="pt"/>
<circle cx="506.15" cy="313.45" r="2.3" class="pt"/>
<circle cx="526.55" cy="292.25" r="2.3" class="pt"/>
<circle cx="546.85" cy="283.35" r="2.3" class="pt"/>
<circle cx="567.15" cy="316.15" r="2.3" class="pt"/>
<circle cx="587.15" cy="282.85" r="2.3" class="pt"/>
<circle cx="607.45" cy="259.65" r="2.3" class="pt"/>
<circle cx="627.75" cy="277.45" r="2.3" class="pt"/>
<line x1="43.63" y1="390.52" x2="326.27" y2="390.52" class="gr"/>
<line x1="43.63" y1="366.08" x2="326.27" y2="366.08" class="gr"/>
<line x1="43.63" y1="341.52" x2="326.27" y2="341.52" class="gr"/>
<line x1="135.35" y1="407.50" x2="135.35" y2="335.15" class="gr"/>
<line x1="226.65" y1="407.50" x2="226.65" y2="335.15" class="gr"/>
<line x1="317.95" y1="407.50" x2="317.95" y2="335.15" class="gr"/>
<line x1="43.73" y1="402.74" x2="45.03" y2="402.74" class="tk"/>
<line x1="327.07" y1="402.74" x2="325.77" y2="402.74" class="tk"/>
<line x1="43.73" y1="390.52" x2="46.33" y2="390.52" class="tk"/>
<line x1="327.07" y1="390.52" x2="324.47" y2="390.52" class="tk"/>
<line x1="43.73" y1="378.30" x2="45.03" y2="378.30" class="tk"/>
<line x1="327.07" y1="378.30" x2="325.77" y2="378.30" class="tk"/>
<line x1="43.73" y1="366.08" x2="46.33" y2="366.08" class="tk"/>
<line x1="327.07" y1="366.08" x2="324.47" y2="366.08" class="tk"/>
<line x1="43.73" y1="353.80" x2="45.03" y2="353.80" class="tk"/>
<line x1="327.07" y1="353.80" x2="325.77" y2="353.80" class="tk"/>
<line x1="43.73" y1="341.52" x2="46.33" y2="341.52" class="tk"/>
<line x1="327.07" y1="341.52" x2="324.47" y2="341.52" class="tk"/>
<line x1="44.05" y1="407.25" x2="44.05" y2="404.65" class="tk"/>
<line x1="44.05" y1="334.35" x2="44.05" y2="336.95" class="tk"/>
<line x1="53.18" y1="407.25" x2="53.18" y2="405.95" class="tk"/>
<line x1="53.18" y1="334.35" x2="53.18" y2="335.65" class="tk"/>
<line x1="62.31" y1="407.25" x2="62.31" y2="405.95" class="tk"/>
<line x1="62.31" y1="334.35" x2="62.31" y2="335.65" class="tk"/>
<line x1="71.44" y1="407.25" x2="71.44" y2="405.95" class="tk"/>
<line x1="71.44" y1="334.35" x2="71.44" y2="335.65" class="tk"/>
<line x1="80.57" y1="407.25" x2="80.57" y2="405.95" class="tk"/>
<line x1="80.57" y1="334.35" x2="80.57" y2="335.65" class="tk"/>
<line x1="89.70" y1="407.25" x2="89.70" y2="405.95" class="tk"/>
<line x1="89.70" y1="334.35" x2="89.70" y2="335.65" class="tk"/>
<line x1="98.83" y1="407.25" x2="98.83" y2="405.95" class="tk"/>
<line x1="98.83" y1="334.35" x2="98.83" y2="335.65" class="tk"/>
<line x1="107.96" y1="407.25" x2="107.96" y2="405.95" class="tk"/>
<line x1="107.96" y1="334.35" x2="107.96" y2="335.65" class="tk"/>
<line x1="117.09" y1="407.25" x2="117.09" y2="405.95" class="tk"/>
<line x1="117.09" y1="334.35" x2="117.09" y2="335.65" class="tk"/>
<line x1="126.22" y1="407.25" x2="126.22" y2="405.95" class="tk"/>
<line x1="126.22" y1="334.35" x2="126.22" y2="335.65" class="tk"/>
<line x1="135.35" y1="407.25" x2="135.35" y2="404.65" class="tk"/>
<line x1="135.35" y1="334.35" x2="135.35" y2="336.95" class="tk"/>
<line x1="144.48" y1="407.25" x2="144.48" y2="405.95" class="tk"/>
<line x1="144.48" y1="334.35" x2="144.48" y2="335.65" class="tk"/>
<line x1="153.61" y1="407.25" x2="153.61" y2="405.95" class="tk"/>
<line x1="153.61" y1="334.35" x2="153.61" y2="335.65" class="tk"/>
<line x1="162.74" y1="407.25" x2="162.74" y2="405.95" class="tk"/>
<line x1="162.74" y1="334.35" x2="162.74" y2="335.65" class="tk"/>
<line x1="171.87" y1="407.25" x2="171.87" y2="405.95" class="tk"/>
<line x1="171.87" y1="334.35" x2="171.87" y2="335.65" class="tk"/>
<line x1="181.00" y1="407.25" x2="181.00" y2="405.95" class="tk"/>
<line x1="181.00" y1="334.35" x2="181.00" y2="335.65" class="tk"/>
<line x1="190.13" y1="407.25" x2="190.13" y2="405.95" class="tk"/>
<line x1="190.13" y1="334.35" x2="190.13" y2="335.65" class="tk"/>
<line x1="199.26" y1="407.25" x2="199.26" y2="405.95" class="tk"/>
<line x1="199.26" y1="334.35" x2="199.26" y2="335.65" class="tk"/>
<line x1="208.39" y1="407.25" x2="208.39" y2="405.95" class="tk"/>
<line x1="208.39" y1="334.35" x2="208.39" y2="335.65" class="tk"/>
<line x1="217.52" y1="407.25" x2="217.52" y2="405.95" class="tk"/>
<line x1="217.52" y1="334.35" x2="217.52" y2="335.65" class="tk"/>
<line x1="226.65" y1="407.25" x2="226.65" y2="404.65" class="tk"/>
<line x1="226.65" y1="334.35" x2="226.65" y2="336.95" class="tk"/>
<line x1="235.78" y1="407.25" x2="235.78" y2="405.95" class="tk"/>
<line x1="235.78" y1="334.35" x2="235.78" y2="335.65" class="tk"/>
<line x1="244.91" y1="407.25" x2="244.91" y2="405.95" class="tk"/>
<line x1="244.91" y1="334.35" x2="244.91" y2="335.65" class="tk"/>
<line x1="254.04" y1="407.25" x2="254.04" y2="405.95" class="tk"/>
<line x1="254.04" y1="334.35" x2="254.04" y2="335.65" class="tk"/>
<line x1="263.17" y1="407.25" x2="263.17" y2="405.95" class="tk"/>
<line x1="263.17" y1="334.35" x2="263.17" y2="335.65" class="tk"/>
<line x1="272.30" y1="407.25" x2="272.30" y2="405.95" class="tk"/>
<line x1="272.30" y1="334.35" x2="272.30" y2="335.65" class="tk"/>
<line x1="281.43" y1="407.25" x2="281.43" y2="405.95" class="tk"/>
<line x1="281.43" y1="334.35" x2="281.43" y2="335.65" class="tk"/>
<line x1="290.56" y1="407.25" x2="290.56" y2="405.95" class="tk"/>
<line x1="290.56" y1="334.35" x2="290.56" y2="335.65" class="tk"/>
<line x1="299.69" y1="407.25" x2="299.69" y2="405.95" class="tk"/>
<line x1="299.69" y1="334.35" x2="299.69" y2="335.65" class="tk"/>
<line x1="308.82" y1="407.25" x2="308.82" y2="405.95" class="tk"/>
<line x1="308.82" y1="334.35" x2="308.82" y2="335.65" class="tk"/>
<line x1="317.95" y1="407.25" x2="317.95" y2="404.65" class="tk"/>
<line x1="317.95" y1="334.35" x2="317.95" y2="336.95" class="tk"/>
<rect x="43.73" y="334.35" width="283.34" height="72.90" class="fr"/>
<line x1="74.35" y1="364.35" x2="74.35" y2="375.05" class="eb"/>
<line x1="98.95" y1="347.65" x2="98.95" y2="357.45" class="eb"/>
<line x1="148.65" y1="393.25" x2="148.65" y2="403.75" class="eb"/>
<line x1="173.45" y1="388.25" x2="173.45" y2="398.95" class="eb"/>
<line x1="197.95" y1="363.15" x2="197.95" y2="375.65" class="eb"/>
<line x1="223.05" y1="336.95" x2="223.05" y2="347.25" class="eb"/>
<line x1="272.45" y1="360.45" x2="272.45" y2="371.15" class="eb"/>
<line x1="297.05" y1="365.45" x2="297.05" y2="375.65" class="eb"/>
<line x1="321.95" y1="360.45" x2="321.95" y2="371.15" class="eb"/>
<circle cx="74.35" cy="369.55" r="2.3" class="pt"/>
<circle cx="98.95" cy="352.65" r="2.3" class="pt"/>
<circle cx="148.65" cy="398.75" r="2.3" class="pt"/>
<circle cx="173.45" cy="393.75" r="2.3" class="pt"/>
<circle cx="197.95" cy="369.55" r="2.3" class="pt"/>
<circle cx="223.05" cy="342.15" r="2.3" class="pt"/>
<circle cx="272.45" cy="365.85" r="2.3" class="pt"/>
<circle cx="297.05" cy="370.65" r="2.3" class="pt"/>
<circle cx="321.95" cy="365.65" r="2.3" class="pt"/>
<line x1="370.30" y1="399.40" x2="653.07" y2="399.40" class="gr"/>
<line x1="370.30" y1="377.81" x2="653.07" y2="377.81" class="gr"/>
<line x1="370.30" y1="356.40" x2="653.07" y2="356.40" class="gr"/>
<line x1="462.02" y1="407.50" x2="462.02" y2="335.15" class="gr"/>
<line x1="553.32" y1="407.50" x2="553.32" y2="335.15" class="gr"/>
<line x1="644.62" y1="407.50" x2="644.62" y2="335.15" class="gr"/>
<line x1="370.47" y1="399.40" x2="373.07" y2="399.40" class="tk"/>
<line x1="653.87" y1="399.40" x2="651.27" y2="399.40" class="tk"/>
<line x1="370.47" y1="388.61" x2="371.77" y2="388.61" class="tk"/>
<line x1="653.87" y1="388.61" x2="652.57" y2="388.61" class="tk"/>
<line x1="370.47" y1="377.81" x2="373.07" y2="377.81" class="tk"/>
<line x1="653.87" y1="377.81" x2="651.27" y2="377.81" class="tk"/>
<line x1="370.47" y1="367.10" x2="371.77" y2="367.10" class="tk"/>
<line x1="653.87" y1="367.10" x2="652.57" y2="367.10" class="tk"/>
<line x1="370.47" y1="356.40" x2="373.07" y2="356.40" class="tk"/>
<line x1="653.87" y1="356.40" x2="651.27" y2="356.40" class="tk"/>
<line x1="370.47" y1="345.69" x2="371.77" y2="345.69" class="tk"/>
<line x1="653.87" y1="345.69" x2="652.57" y2="345.69" class="tk"/>
<line x1="370.47" y1="334.99" x2="373.07" y2="334.99" class="tk"/>
<line x1="653.87" y1="334.99" x2="651.27" y2="334.99" class="tk"/>
<line x1="370.72" y1="407.25" x2="370.72" y2="404.65" class="tk"/>
<line x1="370.72" y1="334.35" x2="370.72" y2="336.95" class="tk"/>
<line x1="379.85" y1="407.25" x2="379.85" y2="405.95" class="tk"/>
<line x1="379.85" y1="334.35" x2="379.85" y2="335.65" class="tk"/>
<line x1="388.98" y1="407.25" x2="388.98" y2="405.95" class="tk"/>
<line x1="388.98" y1="334.35" x2="388.98" y2="335.65" class="tk"/>
<line x1="398.11" y1="407.25" x2="398.11" y2="405.95" class="tk"/>
<line x1="398.11" y1="334.35" x2="398.11" y2="335.65" class="tk"/>
<line x1="407.24" y1="407.25" x2="407.24" y2="405.95" class="tk"/>
<line x1="407.24" y1="334.35" x2="407.24" y2="335.65" class="tk"/>
<line x1="416.37" y1="407.25" x2="416.37" y2="405.95" class="tk"/>
<line x1="416.37" y1="334.35" x2="416.37" y2="335.65" class="tk"/>
<line x1="425.50" y1="407.25" x2="425.50" y2="405.95" class="tk"/>
<line x1="425.50" y1="334.35" x2="425.50" y2="335.65" class="tk"/>
<line x1="434.63" y1="407.25" x2="434.63" y2="405.95" class="tk"/>
<line x1="434.63" y1="334.35" x2="434.63" y2="335.65" class="tk"/>
<line x1="443.76" y1="407.25" x2="443.76" y2="405.95" class="tk"/>
<line x1="443.76" y1="334.35" x2="443.76" y2="335.65" class="tk"/>
<line x1="452.89" y1="407.25" x2="452.89" y2="405.95" class="tk"/>
<line x1="452.89" y1="334.35" x2="452.89" y2="335.65" class="tk"/>
<line x1="462.02" y1="407.25" x2="462.02" y2="404.65" class="tk"/>
<line x1="462.02" y1="334.35" x2="462.02" y2="336.95" class="tk"/>
<line x1="471.15" y1="407.25" x2="471.15" y2="405.95" class="tk"/>
<line x1="471.15" y1="334.35" x2="471.15" y2="335.65" class="tk"/>
<line x1="480.28" y1="407.25" x2="480.28" y2="405.95" class="tk"/>
<line x1="480.28" y1="334.35" x2="480.28" y2="335.65" class="tk"/>
<line x1="489.41" y1="407.25" x2="489.41" y2="405.95" class="tk"/>
<line x1="489.41" y1="334.35" x2="489.41" y2="335.65" class="tk"/>
<line x1="498.54" y1="407.25" x2="498.54" y2="405.95" class="tk"/>
<line x1="498.54" y1="334.35" x2="498.54" y2="335.65" class="tk"/>
<line x1="507.67" y1="407.25" x2="507.67" y2="405.95" class="tk"/>
<line x1="507.67" y1="334.35" x2="507.67" y2="335.65" class="tk"/>
<line x1="516.80" y1="407.25" x2="516.80" y2="405.95" class="tk"/>
<line x1="516.80" y1="334.35" x2="516.80" y2="335.65" class="tk"/>
<line x1="525.93" y1="407.25" x2="525.93" y2="405.95" class="tk"/>
<line x1="525.93" y1="334.35" x2="525.93" y2="335.65" class="tk"/>
<line x1="535.06" y1="407.25" x2="535.06" y2="405.95" class="tk"/>
<line x1="535.06" y1="334.35" x2="535.06" y2="335.65" class="tk"/>
<line x1="544.19" y1="407.25" x2="544.19" y2="405.95" class="tk"/>
<line x1="544.19" y1="334.35" x2="544.19" y2="335.65" class="tk"/>
<line x1="553.32" y1="407.25" x2="553.32" y2="404.65" class="tk"/>
<line x1="553.32" y1="334.35" x2="553.32" y2="336.95" class="tk"/>
<line x1="562.45" y1="407.25" x2="562.45" y2="405.95" class="tk"/>
<line x1="562.45" y1="334.35" x2="562.45" y2="335.65" class="tk"/>
<line x1="571.58" y1="407.25" x2="571.58" y2="405.95" class="tk"/>
<line x1="571.58" y1="334.35" x2="571.58" y2="335.65" class="tk"/>
<line x1="580.71" y1="407.25" x2="580.71" y2="405.95" class="tk"/>
<line x1="580.71" y1="334.35" x2="580.71" y2="335.65" class="tk"/>
<line x1="589.84" y1="407.25" x2="589.84" y2="405.95" class="tk"/>
<line x1="589.84" y1="334.35" x2="589.84" y2="335.65" class="tk"/>
<line x1="598.97" y1="407.25" x2="598.97" y2="405.95" class="tk"/>
<line x1="598.97" y1="334.35" x2="598.97" y2="335.65" class="tk"/>
<line x1="608.10" y1="407.25" x2="608.10" y2="405.95" class="tk"/>
<line x1="608.10" y1="334.35" x2="608.10" y2="335.65" class="tk"/>
<line x1="617.23" y1="407.25" x2="617.23" y2="405.95" class="tk"/>
<line x1="617.23" y1="334.35" x2="617.23" y2="335.65" class="tk"/>
<line x1="626.36" y1="407.25" x2="626.36" y2="405.95" class="tk"/>
<line x1="626.36" y1="334.35" x2="626.36" y2="335.65" class="tk"/>
<line x1="635.49" y1="407.25" x2="635.49" y2="405.95" class="tk"/>
<line x1="635.49" y1="334.35" x2="635.49" y2="335.65" class="tk"/>
<line x1="644.62" y1="407.25" x2="644.62" y2="404.65" class="tk"/>
<line x1="644.62" y1="334.35" x2="644.62" y2="336.95" class="tk"/>
<rect x="370.47" y="334.35" width="283.40" height="72.90" class="fr"/>
<circle cx="395.85" cy="390.95" r="2.3" class="pt"/>
<circle cx="413.65" cy="380.45" r="2.3" class="pt"/>
<circle cx="449.45" cy="360.25" r="2.3" class="pt"/>
<circle cx="466.95" cy="356.55" r="2.3" class="pt"/>
<circle cx="484.75" cy="356.05" r="2.3" class="pt"/>
<circle cx="502.75" cy="367.45" r="2.3" class="pt"/>
<circle cx="520.35" cy="401.95" r="2.3" class="pt"/>
<circle cx="538.15" cy="395.75" r="2.3" class="pt"/>
<circle cx="555.95" cy="394.15" r="2.3" class="pt"/>
<circle cx="573.75" cy="399.65" r="2.3" class="pt"/>
<circle cx="591.45" cy="386.85" r="2.3" class="pt"/>
<circle cx="609.25" cy="382.75" r="2.3" class="pt"/>
<circle cx="644.85" cy="341.05" r="2.3" class="pt"/>
</g>
<g>
<text transform="translate(40.43,66) scale(1.085,1)" class="tl" text-anchor="end"><tspan letter-spacing="-0.6">−</tspan> 00</text>
<path d="M515 0V1237L197 1010V1180L530 1409H696V0Z" transform="translate(19.250,66) scale(0.006198,-0.005713)" class="one" style="stroke-width:52.5px"/>
<text transform="translate(40.43,39) scale(1.085,1)" class="tl" text-anchor="end">0</text>
<text transform="translate(40.43,12) scale(1.085,1)" class="tl" text-anchor="end"> 00</text>
<path d="M515 0V1237L197 1010V1180L530 1409H696V0Z" transform="translate(19.250,12) scale(0.006198,-0.005713)" class="one" style="stroke-width:52.5px"/>
<text transform="translate(53.23,13) scale(1.075,1)" class="nm">KOI 2386.0 </text>
<path d="M515 0V1237L197 1010V1180L530 1409H696V0Z" transform="translate(115.773,13) scale(0.006036,-0.005615)" class="one" style="stroke-width:53.4px"/>
<text transform="translate(367.17,74) scale(1.085,1)" class="tl" text-anchor="end"><tspan letter-spacing="-0.6">−</tspan> 00</text>
<path d="M515 0V1237L197 1010V1180L530 1409H696V0Z" transform="translate(345.990,74) scale(0.006198,-0.005713)" class="one" style="stroke-width:52.5px"/>
<text transform="translate(367.17,41) scale(1.085,1)" class="tl" text-anchor="end">0</text>
<text transform="translate(367.17,9) scale(1.085,1)" class="tl" text-anchor="end"> 00</text>
<path d="M515 0V1237L197 1010V1180L530 1409H696V0Z" transform="translate(345.990,9) scale(0.006198,-0.005713)" class="one" style="stroke-width:52.5px"/>
<text transform="translate(379.97,13) scale(1.075,1)" class="nm">KOI 2445.0 </text>
<path d="M515 0V1237L197 1010V1180L530 1409H696V0Z" transform="translate(442.513,13) scale(0.006036,-0.005615)" class="one" style="stroke-width:53.4px"/>
<text transform="translate(40.43,145) scale(1.085,1)" class="tl" text-anchor="end"><tspan letter-spacing="-0.6">−</tspan> 00</text>
<path d="M515 0V1237L197 1010V1180L530 1409H696V0Z" transform="translate(19.250,145) scale(0.006198,-0.005713)" class="one" style="stroke-width:52.5px"/>
<text transform="translate(40.43,119) scale(1.085,1)" class="tl" text-anchor="end">0</text>
<text transform="translate(40.43,93) scale(1.085,1)" class="tl" text-anchor="end"> 00</text>
<path d="M515 0V1237L197 1010V1180L530 1409H696V0Z" transform="translate(19.250,93) scale(0.006198,-0.005713)" class="one" style="stroke-width:52.5px"/>
<text transform="translate(53.23,96) scale(1.075,1)" class="nm">KOI 2603.0 </text>
<path d="M515 0V1237L197 1010V1180L530 1409H696V0Z" transform="translate(115.773,96) scale(0.006036,-0.005615)" class="one" style="stroke-width:53.4px"/>
<text transform="translate(367.17,153) scale(1.085,1)" class="tl" text-anchor="end"><tspan letter-spacing="-0.6">−</tspan> 00</text>
<path d="M515 0V1237L197 1010V1180L530 1409H696V0Z" transform="translate(345.990,153) scale(0.006198,-0.005713)" class="one" style="stroke-width:52.5px"/>
<text transform="translate(367.17,124) scale(1.085,1)" class="tl" text-anchor="end">0</text>
<text transform="translate(367.17,95) scale(1.085,1)" class="tl" text-anchor="end"> 00</text>
<path d="M515 0V1237L197 1010V1180L530 1409H696V0Z" transform="translate(345.990,95) scale(0.006198,-0.005713)" class="one" style="stroke-width:52.5px"/>
<text transform="translate(379.97,96) scale(1.075,1)" class="nm">KOI 26 3.0 </text>
<path d="M515 0V1237L197 1010V1180L530 1409H696V0Z" transform="translate(418.452,96) scale(0.006036,-0.005615)" class="one" style="stroke-width:53.4px"/>
<path d="M515 0V1237L197 1010V1180L530 1409H696V0Z" transform="translate(442.513,96) scale(0.006036,-0.005615)" class="one" style="stroke-width:53.4px"/>
<text transform="translate(40.43,234) scale(1.085,1)" class="tl" text-anchor="end"><tspan letter-spacing="-0.6">−</tspan> 00</text>
<path d="M515 0V1237L197 1010V1180L530 1409H696V0Z" transform="translate(19.250,234) scale(0.006198,-0.005713)" class="one" style="stroke-width:52.5px"/>
<text transform="translate(40.43,209) scale(1.085,1)" class="tl" text-anchor="end">0</text>
<text transform="translate(40.43,184) scale(1.085,1)" class="tl" text-anchor="end"> 00</text>
<path d="M515 0V1237L197 1010V1180L530 1409H696V0Z" transform="translate(19.250,184) scale(0.006198,-0.005713)" class="one" style="stroke-width:52.5px"/>
<text transform="translate(53.23,179) scale(1.075,1)" class="nm">KOI 2666.0 </text>
<path d="M515 0V1237L197 1010V1180L530 1409H696V0Z" transform="translate(115.773,179) scale(0.006036,-0.005615)" class="one" style="stroke-width:53.4px"/>
<text transform="translate(367.17,237) scale(1.085,1)" class="tl" text-anchor="end"><tspan letter-spacing="-0.6">−</tspan>50</text>
<text transform="translate(367.17,211) scale(1.085,1)" class="tl" text-anchor="end">0</text>
<text transform="translate(367.17,185) scale(1.085,1)" class="tl" text-anchor="end">50</text>
<text transform="translate(379.97,179) scale(1.075,1)" class="nm">KOI 2672.0 </text>
<path d="M515 0V1237L197 1010V1180L530 1409H696V0Z" transform="translate(442.513,179) scale(0.006036,-0.005615)" class="one" style="stroke-width:53.4px"/>
<text transform="translate(506.97,179) scale(1.095,1)" class="nm">Kepler396c</text>
<text transform="translate(40.43,315) scale(1.085,1)" class="tl" text-anchor="end"><tspan letter-spacing="-0.6">−</tspan>20</text>
<text transform="translate(40.43,298) scale(1.085,1)" class="tl" text-anchor="end">0</text>
<text transform="translate(40.43,280) scale(1.085,1)" class="tl" text-anchor="end">20</text>
<text transform="translate(40.43,263) scale(1.085,1)" class="tl" text-anchor="end">40</text>
<text transform="translate(53.23,262) scale(1.075,1)" class="nm">KOI 2672.02</text>
<text transform="translate(180.23,262) scale(1.095,1)" class="nm">Kepler396b</text>
<text transform="translate(367.17,313) scale(1.085,1)" class="tl" text-anchor="end"><tspan letter-spacing="-0.6">−</tspan>5</text>
<text transform="translate(367.17,288) scale(1.085,1)" class="tl" text-anchor="end">0</text>
<text transform="translate(367.17,264) scale(1.085,1)" class="tl" text-anchor="end">5</text>
<text transform="translate(379.97,262) scale(1.075,1)" class="nm">KOI 2679.0 </text>
<path d="M515 0V1237L197 1010V1180L530 1409H696V0Z" transform="translate(442.513,262) scale(0.006036,-0.005615)" class="one" style="stroke-width:53.4px"/>
<text transform="translate(40.43,395) scale(1.085,1)" class="tl" text-anchor="end"><tspan letter-spacing="-0.6">−</tspan>20</text>
<text transform="translate(40.43,371) scale(1.085,1)" class="tl" text-anchor="end">0</text>
<text transform="translate(40.43,346) scale(1.085,1)" class="tl" text-anchor="end">20</text>
<text transform="translate(53.23,345) scale(1.075,1)" class="nm">KOI 268 .0 </text>
<path d="M515 0V1237L197 1010V1180L530 1409H696V0Z" transform="translate(98.587,345) scale(0.006036,-0.005615)" class="one" style="stroke-width:53.4px"/>
<path d="M515 0V1237L197 1010V1180L530 1409H696V0Z" transform="translate(115.773,345) scale(0.006036,-0.005615)" class="one" style="stroke-width:53.4px"/>
<text transform="translate(180.23,345) scale(1.095,1)" class="nm">Kepler397c</text>
<text transform="translate(367.17,404) scale(1.085,1)" class="tl" text-anchor="end"><tspan letter-spacing="-0.6">−</tspan>50</text>
<text transform="translate(367.17,382) scale(1.085,1)" class="tl" text-anchor="end">0</text>
<text transform="translate(367.17,361) scale(1.085,1)" class="tl" text-anchor="end">50</text>
<text transform="translate(367.17,340) scale(1.085,1)" class="tl" text-anchor="end"> 00</text>
<path d="M515 0V1237L197 1010V1180L530 1409H696V0Z" transform="translate(345.990,340) scale(0.006198,-0.005713)" class="one" style="stroke-width:52.5px"/>
<text transform="translate(379.97,345) scale(1.075,1)" class="nm">KOI 269 .0 </text>
<path d="M515 0V1237L197 1010V1180L530 1409H696V0Z" transform="translate(425.327,345) scale(0.006036,-0.005615)" class="one" style="stroke-width:53.4px"/>
<path d="M515 0V1237L197 1010V1180L530 1409H696V0Z" transform="translate(442.513,345) scale(0.006036,-0.005615)" class="one" style="stroke-width:53.4px"/>
<text transform="translate(43.85,422) scale(1.085,1)" class="tl" text-anchor="middle">0</text>
<text transform="translate(135.15,422) scale(1.085,1)" class="tl" text-anchor="middle">500</text>
<text transform="translate(226.45,422) scale(1.085,1)" class="tl" text-anchor="middle"> 000</text>
<path d="M515 0V1237L197 1010V1180L530 1409H696V0Z" transform="translate(212.330,422) scale(0.006198,-0.005713)" class="one" style="stroke-width:52.5px"/>
<text transform="translate(317.75,422) scale(1.085,1)" class="tl" text-anchor="middle"> 500</text>
<path d="M515 0V1237L197 1010V1180L530 1409H696V0Z" transform="translate(303.630,422) scale(0.006198,-0.005713)" class="one" style="stroke-width:52.5px"/>
<text transform="translate(370.52,422) scale(1.085,1)" class="tl" text-anchor="middle">0</text>
<text transform="translate(461.82,422) scale(1.085,1)" class="tl" text-anchor="middle">500</text>
<text transform="translate(553.12,422) scale(1.085,1)" class="tl" text-anchor="middle"> 000</text>
<path d="M515 0V1237L197 1010V1180L530 1409H696V0Z" transform="translate(539.000,422) scale(0.006198,-0.005713)" class="one" style="stroke-width:52.5px"/>
<text transform="translate(644.42,422) scale(1.085,1)" class="tl" text-anchor="middle"> 500</text>
<path d="M515 0V1237L197 1010V1180L530 1409H696V0Z" transform="translate(630.300,422) scale(0.006198,-0.005713)" class="one" style="stroke-width:52.5px"/>
<text transform="translate(359.25,447) scale(1.088,1)" class="ax" text-anchor="middle">Time [BJD −2454900]</text>
<text transform="translate(14.4,202.7) rotate(-90) scale(1,1.05)" class="ay" text-anchor="middle">O−C [min]</text>
</g>
</svg>
</body></html>
